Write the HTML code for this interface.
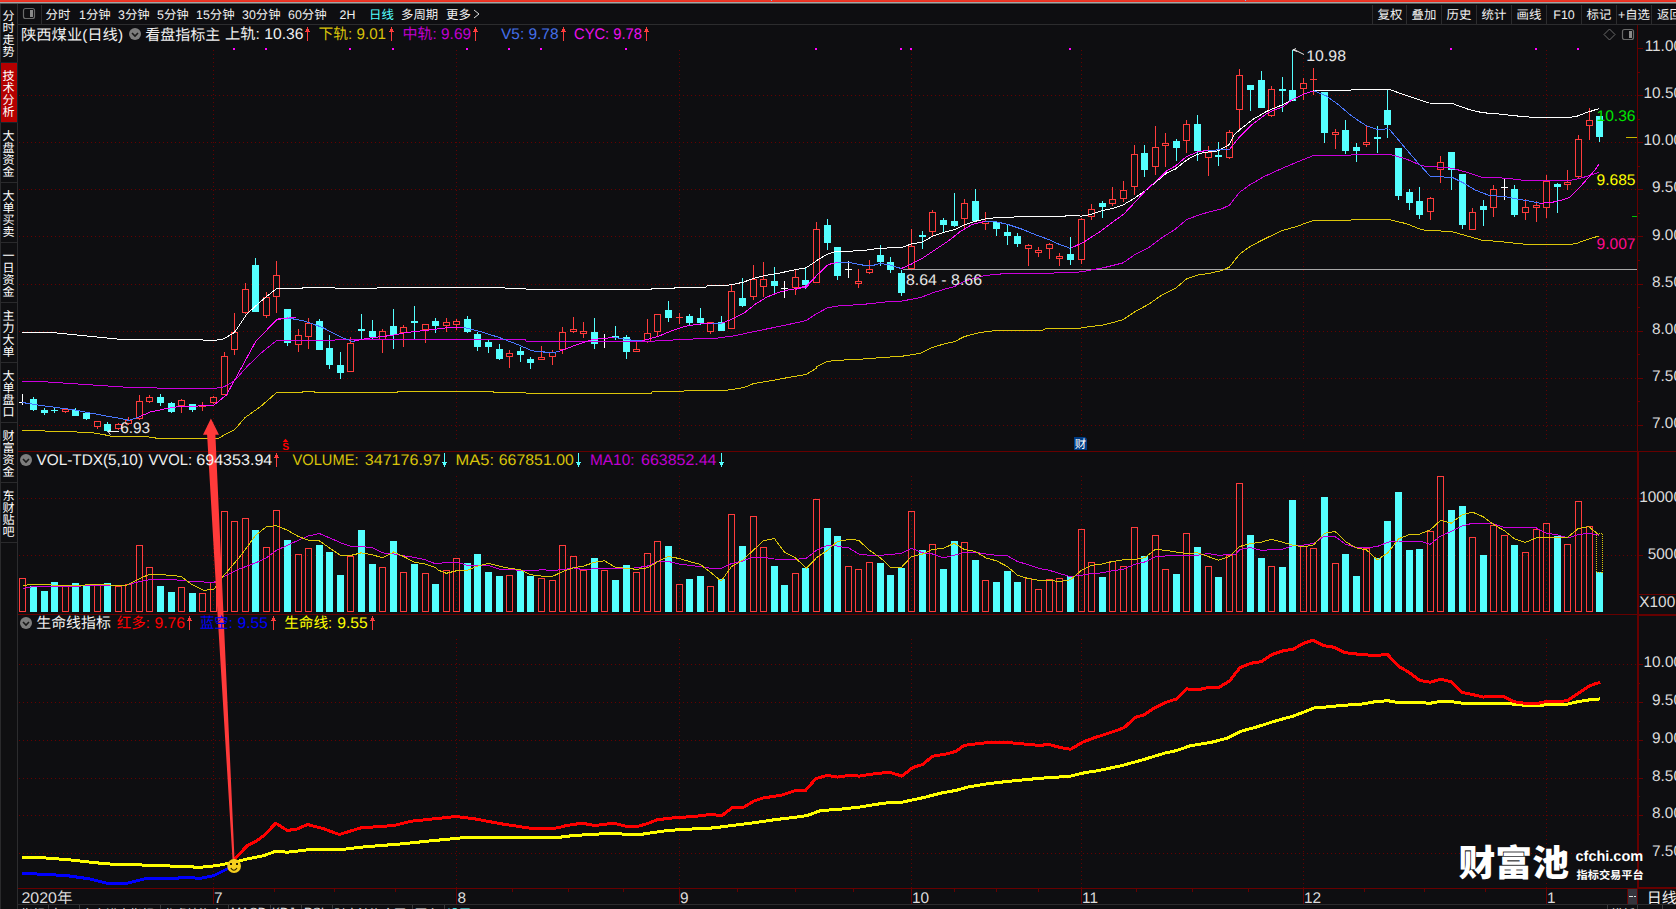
<!DOCTYPE html><html><head><meta charset="utf-8"><title>陕西煤业</title><style>html,body{margin:0;padding:0;background:#0e0e11;width:1676px;height:909px;overflow:hidden}svg{display:block}</style></head><body><svg width="1676" height="909" viewBox="0 0 1676 909" text-rendering="geometricPrecision" font-family="Liberation Sans, Noto Sans CJK SC, sans-serif">
<rect width="1676" height="909" fill="#0e0e11"/>
<g shape-rendering="crispEdges"><rect x="0" y="0" width="1676" height="1" fill="#e83828"/><rect x="0" y="1" width="1676" height="1" fill="#f02c1e"/><rect x="0" y="2" width="1676" height="1" fill="#a2a8a8"/><rect x="0" y="3" width="1676" height="1" fill="#585858"/><rect x="0" y="4" width="1676" height="1" fill="#09090b"/><rect x="771" y="0" width="1" height="1" fill="#78bcf0"/><rect x="1245" y="0" width="1" height="1" fill="#78bcf0"/></g>
<g shape-rendering="crispEdges">
<line x1="19" x2="1637" y1="95.5" y2="95.5" stroke="#660000" stroke-dasharray="1 3"/>
<line x1="19" x2="1637" y1="142.5" y2="142.5" stroke="#660000" stroke-dasharray="1 3"/>
<line x1="19" x2="1637" y1="189.5" y2="189.5" stroke="#660000" stroke-dasharray="1 3"/>
<line x1="19" x2="1637" y1="236.5" y2="236.5" stroke="#660000" stroke-dasharray="1 3"/>
<line x1="19" x2="1637" y1="284.5" y2="284.5" stroke="#660000" stroke-dasharray="1 3"/>
<line x1="19" x2="1637" y1="331.5" y2="331.5" stroke="#660000" stroke-dasharray="1 3"/>
<line x1="19" x2="1637" y1="378.5" y2="378.5" stroke="#660000" stroke-dasharray="1 3"/>
<line x1="19" x2="1637" y1="425.5" y2="425.5" stroke="#660000" stroke-dasharray="1 3"/>
<line x1="213.5" x2="213.5" y1="50" y2="440" stroke="#660000" stroke-dasharray="1 3"/>
<line x1="213.5" x2="213.5" y1="476" y2="612" stroke="#660000" stroke-dasharray="1 3"/>
<line x1="213.5" x2="213.5" y1="639" y2="888" stroke="#660000" stroke-dasharray="1 3"/>
<line x1="456.5" x2="456.5" y1="50" y2="440" stroke="#660000" stroke-dasharray="1 3"/>
<line x1="456.5" x2="456.5" y1="476" y2="612" stroke="#660000" stroke-dasharray="1 3"/>
<line x1="456.5" x2="456.5" y1="639" y2="888" stroke="#660000" stroke-dasharray="1 3"/>
<line x1="679.5" x2="679.5" y1="50" y2="440" stroke="#660000" stroke-dasharray="1 3"/>
<line x1="679.5" x2="679.5" y1="476" y2="612" stroke="#660000" stroke-dasharray="1 3"/>
<line x1="679.5" x2="679.5" y1="639" y2="888" stroke="#660000" stroke-dasharray="1 3"/>
<line x1="911.5" x2="911.5" y1="50" y2="440" stroke="#660000" stroke-dasharray="1 3"/>
<line x1="911.5" x2="911.5" y1="476" y2="612" stroke="#660000" stroke-dasharray="1 3"/>
<line x1="911.5" x2="911.5" y1="639" y2="888" stroke="#660000" stroke-dasharray="1 3"/>
<line x1="1081.5" x2="1081.5" y1="50" y2="440" stroke="#660000" stroke-dasharray="1 3"/>
<line x1="1081.5" x2="1081.5" y1="476" y2="612" stroke="#660000" stroke-dasharray="1 3"/>
<line x1="1081.5" x2="1081.5" y1="639" y2="888" stroke="#660000" stroke-dasharray="1 3"/>
<line x1="1303.5" x2="1303.5" y1="50" y2="440" stroke="#660000" stroke-dasharray="1 3"/>
<line x1="1303.5" x2="1303.5" y1="476" y2="612" stroke="#660000" stroke-dasharray="1 3"/>
<line x1="1303.5" x2="1303.5" y1="639" y2="888" stroke="#660000" stroke-dasharray="1 3"/>
<line x1="1546.5" x2="1546.5" y1="50" y2="440" stroke="#660000" stroke-dasharray="1 3"/>
<line x1="1546.5" x2="1546.5" y1="476" y2="612" stroke="#660000" stroke-dasharray="1 3"/>
<line x1="1546.5" x2="1546.5" y1="639" y2="888" stroke="#660000" stroke-dasharray="1 3"/>
<line x1="19" x2="1637" y1="498.5" y2="498.5" stroke="#660000" stroke-dasharray="1 3"/>
<line x1="19" x2="1637" y1="555.5" y2="555.5" stroke="#660000" stroke-dasharray="1 3"/>
<line x1="19" x2="1637" y1="664.5" y2="664.5" stroke="#660000" stroke-dasharray="1 3"/>
<line x1="19" x2="1637" y1="702.5" y2="702.5" stroke="#660000" stroke-dasharray="1 3"/>
<line x1="19" x2="1637" y1="740.5" y2="740.5" stroke="#660000" stroke-dasharray="1 3"/>
<line x1="19" x2="1637" y1="778.5" y2="778.5" stroke="#660000" stroke-dasharray="1 3"/>
<line x1="19" x2="1637" y1="815.5" y2="815.5" stroke="#660000" stroke-dasharray="1 3"/>
<line x1="19" x2="1637" y1="853.5" y2="853.5" stroke="#660000" stroke-dasharray="1 3"/>
</g>
<rect x="903" y="269" width="734" height="1" fill="#a8a8a8" shape-rendering="crispEdges"/>
<g shape-rendering="crispEdges">
<rect x="22" y="394" width="1" height="11" fill="#ffffff"/>
<rect x="19" y="402" width="7" height="1" fill="#ffffff"/>
<rect x="33" y="397" width="1" height="14" fill="#54ffff"/>
<rect x="30" y="399" width="7" height="11" fill="#54ffff"/>
<rect x="44" y="408" width="1" height="7" fill="#54ffff"/>
<rect x="41" y="410" width="7" height="3" fill="#54ffff"/>
<rect x="54" y="407" width="1" height="6" fill="#54ffff"/>
<rect x="51" y="410" width="7" height="1" fill="#54ffff"/>
<rect x="65" y="412" width="1" height="1" fill="#ff3c3c"/>
<rect x="62.5" y="409.5" width="6" height="2" fill="#0e0e11" stroke="#ff3c3c" stroke-width="1"/>
<rect x="75" y="408" width="1" height="8" fill="#54ffff"/>
<rect x="72" y="410" width="7" height="6" fill="#54ffff"/>
<rect x="86" y="412" width="1" height="8" fill="#54ffff"/>
<rect x="83" y="413" width="7" height="6" fill="#54ffff"/>
<rect x="97" y="427" width="1" height="2" fill="#ff3c3c"/>
<rect x="94.5" y="421.5" width="6" height="5" fill="#0e0e11" stroke="#ff3c3c" stroke-width="1"/>
<rect x="107" y="422" width="1" height="10" fill="#54ffff"/>
<rect x="104" y="424" width="7" height="7" fill="#54ffff"/>
<rect x="118" y="423" width="1" height="1" fill="#ff3c3c"/>
<rect x="118" y="429" width="1" height="1" fill="#ff3c3c"/>
<rect x="115.5" y="424.5" width="6" height="4" fill="#0e0e11" stroke="#ff3c3c" stroke-width="1"/>
<rect x="128" y="417" width="1" height="3" fill="#ff3c3c"/>
<rect x="128" y="424" width="1" height="1" fill="#ff3c3c"/>
<rect x="125.5" y="420.5" width="6" height="3" fill="#0e0e11" stroke="#ff3c3c" stroke-width="1"/>
<rect x="139" y="395" width="1" height="6" fill="#ff3c3c"/>
<rect x="139" y="419" width="1" height="1" fill="#ff3c3c"/>
<rect x="136.5" y="401.5" width="6" height="17" fill="#0e0e11" stroke="#ff3c3c" stroke-width="1"/>
<rect x="149" y="395" width="1" height="2" fill="#ff3c3c"/>
<rect x="149" y="402" width="1" height="1" fill="#ff3c3c"/>
<rect x="146.5" y="397.5" width="6" height="4" fill="#0e0e11" stroke="#ff3c3c" stroke-width="1"/>
<rect x="160" y="394" width="1" height="12" fill="#54ffff"/>
<rect x="157" y="397" width="7" height="6" fill="#54ffff"/>
<rect x="171" y="402" width="1" height="11" fill="#54ffff"/>
<rect x="168" y="403" width="7" height="9" fill="#54ffff"/>
<rect x="181" y="399" width="1" height="1" fill="#ff3c3c"/>
<rect x="181" y="406" width="1" height="7" fill="#ff3c3c"/>
<rect x="178.5" y="400.5" width="6" height="5" fill="#0e0e11" stroke="#ff3c3c" stroke-width="1"/>
<rect x="192" y="404" width="1" height="8" fill="#54ffff"/>
<rect x="189" y="404" width="7" height="6" fill="#54ffff"/>
<rect x="202" y="402" width="1" height="9" fill="#ff3c3c"/>
<rect x="199" y="406" width="7" height="1" fill="#ff3c3c"/>
<rect x="213" y="396" width="1" height="1" fill="#ff3c3c"/>
<rect x="213" y="403" width="1" height="1" fill="#ff3c3c"/>
<rect x="210.5" y="397.5" width="6" height="5" fill="#0e0e11" stroke="#ff3c3c" stroke-width="1"/>
<rect x="224" y="352" width="1" height="4" fill="#ff3c3c"/>
<rect x="221.5" y="356.5" width="6" height="38" fill="#0e0e11" stroke="#ff3c3c" stroke-width="1"/>
<rect x="234" y="313" width="1" height="19" fill="#ff3c3c"/>
<rect x="234" y="350" width="1" height="5" fill="#ff3c3c"/>
<rect x="231.5" y="332.5" width="6" height="17" fill="#0e0e11" stroke="#ff3c3c" stroke-width="1"/>
<rect x="245" y="283" width="1" height="6" fill="#ff3c3c"/>
<rect x="245" y="313" width="1" height="1" fill="#ff3c3c"/>
<rect x="242.5" y="289.5" width="6" height="23" fill="#0e0e11" stroke="#ff3c3c" stroke-width="1"/>
<rect x="255" y="258" width="1" height="54" fill="#54ffff"/>
<rect x="252" y="265" width="7" height="47" fill="#54ffff"/>
<rect x="266" y="292" width="1" height="5" fill="#ff3c3c"/>
<rect x="266" y="316" width="1" height="2" fill="#ff3c3c"/>
<rect x="263.5" y="297.5" width="6" height="18" fill="#0e0e11" stroke="#ff3c3c" stroke-width="1"/>
<rect x="276" y="261" width="1" height="14" fill="#ff3c3c"/>
<rect x="276" y="297" width="1" height="16" fill="#ff3c3c"/>
<rect x="273.5" y="275.5" width="6" height="21" fill="#0e0e11" stroke="#ff3c3c" stroke-width="1"/>
<rect x="287" y="309" width="1" height="37" fill="#54ffff"/>
<rect x="284" y="309" width="7" height="34" fill="#54ffff"/>
<rect x="298" y="329" width="1" height="6" fill="#ff3c3c"/>
<rect x="298" y="345" width="1" height="7" fill="#ff3c3c"/>
<rect x="295.5" y="335.5" width="6" height="9" fill="#0e0e11" stroke="#ff3c3c" stroke-width="1"/>
<rect x="308" y="318" width="1" height="5" fill="#ff3c3c"/>
<rect x="308" y="337" width="1" height="12" fill="#ff3c3c"/>
<rect x="305.5" y="323.5" width="6" height="13" fill="#0e0e11" stroke="#ff3c3c" stroke-width="1"/>
<rect x="319" y="319" width="1" height="31" fill="#54ffff"/>
<rect x="316" y="321" width="7" height="29" fill="#54ffff"/>
<rect x="329" y="335" width="1" height="34" fill="#54ffff"/>
<rect x="326" y="348" width="7" height="17" fill="#54ffff"/>
<rect x="340" y="352" width="1" height="27" fill="#54ffff"/>
<rect x="337" y="365" width="7" height="8" fill="#54ffff"/>
<rect x="350" y="337" width="1" height="6" fill="#ff3c3c"/>
<rect x="347.5" y="343.5" width="6" height="28" fill="#0e0e11" stroke="#ff3c3c" stroke-width="1"/>
<rect x="361" y="314" width="1" height="26" fill="#54ffff"/>
<rect x="358" y="329" width="7" height="2" fill="#54ffff"/>
<rect x="372" y="320" width="1" height="20" fill="#54ffff"/>
<rect x="369" y="331" width="7" height="6" fill="#54ffff"/>
<rect x="382" y="329" width="1" height="2" fill="#ff3c3c"/>
<rect x="382" y="340" width="1" height="13" fill="#ff3c3c"/>
<rect x="379.5" y="331.5" width="6" height="8" fill="#0e0e11" stroke="#ff3c3c" stroke-width="1"/>
<rect x="393" y="309" width="1" height="40" fill="#54ffff"/>
<rect x="390" y="326" width="7" height="9" fill="#54ffff"/>
<rect x="403" y="325" width="1" height="2" fill="#ff3c3c"/>
<rect x="403" y="333" width="1" height="14" fill="#ff3c3c"/>
<rect x="400.5" y="327.5" width="6" height="5" fill="#0e0e11" stroke="#ff3c3c" stroke-width="1"/>
<rect x="414" y="306" width="1" height="33" fill="#54ffff"/>
<rect x="411" y="321" width="7" height="2" fill="#54ffff"/>
<rect x="425" y="330" width="1" height="13" fill="#ff3c3c"/>
<rect x="422.5" y="324.5" width="6" height="5" fill="#0e0e11" stroke="#ff3c3c" stroke-width="1"/>
<rect x="435" y="318" width="1" height="15" fill="#54ffff"/>
<rect x="432" y="321" width="7" height="5" fill="#54ffff"/>
<rect x="446" y="318" width="1" height="4" fill="#ff3c3c"/>
<rect x="446" y="326" width="1" height="6" fill="#ff3c3c"/>
<rect x="443.5" y="322.5" width="6" height="3" fill="#0e0e11" stroke="#ff3c3c" stroke-width="1"/>
<rect x="456" y="319" width="1" height="2" fill="#ff3c3c"/>
<rect x="456" y="325" width="1" height="5" fill="#ff3c3c"/>
<rect x="453.5" y="321.5" width="6" height="3" fill="#0e0e11" stroke="#ff3c3c" stroke-width="1"/>
<rect x="467" y="316" width="1" height="17" fill="#54ffff"/>
<rect x="464" y="319" width="7" height="13" fill="#54ffff"/>
<rect x="477" y="332" width="1" height="19" fill="#54ffff"/>
<rect x="474" y="334" width="7" height="13" fill="#54ffff"/>
<rect x="488" y="340" width="1" height="13" fill="#54ffff"/>
<rect x="485" y="342" width="7" height="5" fill="#54ffff"/>
<rect x="499" y="344" width="1" height="16" fill="#54ffff"/>
<rect x="496" y="349" width="7" height="10" fill="#54ffff"/>
<rect x="509" y="350" width="1" height="3" fill="#ff3c3c"/>
<rect x="509" y="357" width="1" height="11" fill="#ff3c3c"/>
<rect x="506.5" y="353.5" width="6" height="3" fill="#0e0e11" stroke="#ff3c3c" stroke-width="1"/>
<rect x="520" y="347" width="1" height="15" fill="#54ffff"/>
<rect x="517" y="351" width="7" height="4" fill="#54ffff"/>
<rect x="530" y="357" width="1" height="12" fill="#54ffff"/>
<rect x="527" y="359" width="7" height="4" fill="#54ffff"/>
<rect x="541" y="346" width="1" height="11" fill="#ff3c3c"/>
<rect x="538.5" y="357.5" width="6" height="2" fill="#0e0e11" stroke="#ff3c3c" stroke-width="1"/>
<rect x="552" y="350" width="1" height="2" fill="#ff3c3c"/>
<rect x="552" y="357" width="1" height="8" fill="#ff3c3c"/>
<rect x="549.5" y="352.5" width="6" height="4" fill="#0e0e11" stroke="#ff3c3c" stroke-width="1"/>
<rect x="562" y="327" width="1" height="5" fill="#ff3c3c"/>
<rect x="562" y="350" width="1" height="4" fill="#ff3c3c"/>
<rect x="559.5" y="332.5" width="6" height="17" fill="#0e0e11" stroke="#ff3c3c" stroke-width="1"/>
<rect x="573" y="317" width="1" height="12" fill="#ff3c3c"/>
<rect x="573" y="332" width="1" height="1" fill="#ff3c3c"/>
<rect x="570.5" y="329.5" width="6" height="2" fill="#0e0e11" stroke="#ff3c3c" stroke-width="1"/>
<rect x="583" y="322" width="1" height="9" fill="#ff3c3c"/>
<rect x="583" y="334" width="1" height="4" fill="#ff3c3c"/>
<rect x="580.5" y="331.5" width="6" height="2" fill="#0e0e11" stroke="#ff3c3c" stroke-width="1"/>
<rect x="594" y="318" width="1" height="31" fill="#54ffff"/>
<rect x="591" y="332" width="7" height="12" fill="#54ffff"/>
<rect x="604" y="334" width="1" height="14" fill="#ffffff"/>
<rect x="601" y="338" width="7" height="1" fill="#ffffff"/>
<rect x="615" y="326" width="1" height="14" fill="#54ffff"/>
<rect x="612" y="336" width="7" height="2" fill="#54ffff"/>
<rect x="626" y="335" width="1" height="24" fill="#54ffff"/>
<rect x="623" y="337" width="7" height="15" fill="#54ffff"/>
<rect x="636" y="342" width="1" height="7" fill="#ff3c3c"/>
<rect x="633.5" y="349.5" width="6" height="2" fill="#0e0e11" stroke="#ff3c3c" stroke-width="1"/>
<rect x="647" y="319" width="1" height="14" fill="#ff3c3c"/>
<rect x="647" y="342" width="1" height="1" fill="#ff3c3c"/>
<rect x="644.5" y="333.5" width="6" height="8" fill="#0e0e11" stroke="#ff3c3c" stroke-width="1"/>
<rect x="657" y="332" width="1" height="4" fill="#ff3c3c"/>
<rect x="654.5" y="314.5" width="6" height="17" fill="#0e0e11" stroke="#ff3c3c" stroke-width="1"/>
<rect x="668" y="301" width="1" height="21" fill="#54ffff"/>
<rect x="665" y="310" width="7" height="8" fill="#54ffff"/>
<rect x="679" y="313" width="1" height="11" fill="#ff3c3c"/>
<rect x="676" y="317" width="7" height="1" fill="#ff3c3c"/>
<rect x="689" y="314" width="1" height="11" fill="#54ffff"/>
<rect x="686" y="316" width="7" height="7" fill="#54ffff"/>
<rect x="700" y="308" width="1" height="17" fill="#54ffff"/>
<rect x="697" y="318" width="7" height="5" fill="#54ffff"/>
<rect x="710" y="332" width="1" height="2" fill="#ff3c3c"/>
<rect x="707.5" y="322.5" width="6" height="9" fill="#0e0e11" stroke="#ff3c3c" stroke-width="1"/>
<rect x="721" y="316" width="1" height="15" fill="#54ffff"/>
<rect x="718" y="322" width="7" height="9" fill="#54ffff"/>
<rect x="731" y="284" width="1" height="7" fill="#ff3c3c"/>
<rect x="728.5" y="291.5" width="6" height="37" fill="#0e0e11" stroke="#ff3c3c" stroke-width="1"/>
<rect x="742" y="278" width="1" height="29" fill="#54ffff"/>
<rect x="739" y="298" width="7" height="8" fill="#54ffff"/>
<rect x="753" y="265" width="1" height="14" fill="#ff3c3c"/>
<rect x="753" y="297" width="1" height="3" fill="#ff3c3c"/>
<rect x="750.5" y="279.5" width="6" height="17" fill="#0e0e11" stroke="#ff3c3c" stroke-width="1"/>
<rect x="763" y="262" width="1" height="17" fill="#ff3c3c"/>
<rect x="763" y="287" width="1" height="10" fill="#ff3c3c"/>
<rect x="760.5" y="279.5" width="6" height="7" fill="#0e0e11" stroke="#ff3c3c" stroke-width="1"/>
<rect x="774" y="267" width="1" height="26" fill="#54ffff"/>
<rect x="771" y="281" width="7" height="5" fill="#54ffff"/>
<rect x="784" y="281" width="1" height="17" fill="#ffffff"/>
<rect x="781" y="288" width="7" height="1" fill="#ffffff"/>
<rect x="795" y="269" width="1" height="8" fill="#ff3c3c"/>
<rect x="795" y="288" width="1" height="7" fill="#ff3c3c"/>
<rect x="792.5" y="277.5" width="6" height="10" fill="#0e0e11" stroke="#ff3c3c" stroke-width="1"/>
<rect x="805" y="268" width="1" height="21" fill="#54ffff"/>
<rect x="802" y="280" width="7" height="5" fill="#54ffff"/>
<rect x="816" y="222" width="1" height="7" fill="#ff3c3c"/>
<rect x="813.5" y="229.5" width="6" height="53" fill="#0e0e11" stroke="#ff3c3c" stroke-width="1"/>
<rect x="827" y="219" width="1" height="31" fill="#54ffff"/>
<rect x="824" y="225" width="7" height="18" fill="#54ffff"/>
<rect x="837" y="247" width="1" height="33" fill="#54ffff"/>
<rect x="834" y="247" width="7" height="29" fill="#54ffff"/>
<rect x="848" y="261" width="1" height="17" fill="#ffffff"/>
<rect x="845" y="269" width="7" height="1" fill="#ffffff"/>
<rect x="858" y="269" width="1" height="12" fill="#ff3c3c"/>
<rect x="858" y="284" width="1" height="4" fill="#ff3c3c"/>
<rect x="855.5" y="281.5" width="6" height="2" fill="#0e0e11" stroke="#ff3c3c" stroke-width="1"/>
<rect x="869" y="260" width="1" height="9" fill="#ff3c3c"/>
<rect x="869" y="273" width="1" height="1" fill="#ff3c3c"/>
<rect x="866.5" y="269.5" width="6" height="3" fill="#0e0e11" stroke="#ff3c3c" stroke-width="1"/>
<rect x="880" y="245" width="1" height="21" fill="#54ffff"/>
<rect x="877" y="255" width="7" height="7" fill="#54ffff"/>
<rect x="890" y="257" width="1" height="16" fill="#54ffff"/>
<rect x="887" y="262" width="7" height="8" fill="#54ffff"/>
<rect x="901" y="270" width="1" height="26" fill="#54ffff"/>
<rect x="898" y="273" width="7" height="20" fill="#54ffff"/>
<rect x="911" y="229" width="1" height="17" fill="#ff3c3c"/>
<rect x="908.5" y="246.5" width="6" height="22" fill="#0e0e11" stroke="#ff3c3c" stroke-width="1"/>
<rect x="922" y="231" width="1" height="18" fill="#54ffff"/>
<rect x="919" y="235" width="7" height="2" fill="#54ffff"/>
<rect x="932" y="210" width="1" height="2" fill="#ff3c3c"/>
<rect x="932" y="232" width="1" height="5" fill="#ff3c3c"/>
<rect x="929.5" y="212.5" width="6" height="19" fill="#0e0e11" stroke="#ff3c3c" stroke-width="1"/>
<rect x="943" y="218" width="1" height="14" fill="#54ffff"/>
<rect x="940" y="220" width="7" height="5" fill="#54ffff"/>
<rect x="954" y="193" width="1" height="34" fill="#54ffff"/>
<rect x="951" y="221" width="7" height="5" fill="#54ffff"/>
<rect x="964" y="199" width="1" height="4" fill="#ff3c3c"/>
<rect x="964" y="219" width="1" height="10" fill="#ff3c3c"/>
<rect x="961.5" y="203.5" width="6" height="15" fill="#0e0e11" stroke="#ff3c3c" stroke-width="1"/>
<rect x="975" y="189" width="1" height="33" fill="#54ffff"/>
<rect x="972" y="201" width="7" height="20" fill="#54ffff"/>
<rect x="985" y="212" width="1" height="9" fill="#ff3c3c"/>
<rect x="985" y="224" width="1" height="6" fill="#ff3c3c"/>
<rect x="982.5" y="221.5" width="6" height="2" fill="#0e0e11" stroke="#ff3c3c" stroke-width="1"/>
<rect x="996" y="221" width="1" height="15" fill="#54ffff"/>
<rect x="993" y="222" width="7" height="7" fill="#54ffff"/>
<rect x="1007" y="224" width="1" height="21" fill="#54ffff"/>
<rect x="1004" y="232" width="7" height="4" fill="#54ffff"/>
<rect x="1017" y="233" width="1" height="14" fill="#54ffff"/>
<rect x="1014" y="236" width="7" height="8" fill="#54ffff"/>
<rect x="1028" y="244" width="1" height="1" fill="#ff3c3c"/>
<rect x="1028" y="249" width="1" height="17" fill="#ff3c3c"/>
<rect x="1025.5" y="245.5" width="6" height="3" fill="#0e0e11" stroke="#ff3c3c" stroke-width="1"/>
<rect x="1038" y="247" width="1" height="3" fill="#ff3c3c"/>
<rect x="1038" y="253" width="1" height="4" fill="#ff3c3c"/>
<rect x="1035.5" y="250.5" width="6" height="2" fill="#0e0e11" stroke="#ff3c3c" stroke-width="1"/>
<rect x="1049" y="243" width="1" height="1" fill="#ff3c3c"/>
<rect x="1049" y="249" width="1" height="10" fill="#ff3c3c"/>
<rect x="1046.5" y="244.5" width="6" height="4" fill="#0e0e11" stroke="#ff3c3c" stroke-width="1"/>
<rect x="1059" y="253" width="1" height="3" fill="#ff3c3c"/>
<rect x="1059" y="259" width="1" height="7" fill="#ff3c3c"/>
<rect x="1056.5" y="256.5" width="6" height="2" fill="#0e0e11" stroke="#ff3c3c" stroke-width="1"/>
<rect x="1070" y="237" width="1" height="28" fill="#54ffff"/>
<rect x="1067" y="254" width="7" height="6" fill="#54ffff"/>
<rect x="1081" y="218" width="1" height="1" fill="#ff3c3c"/>
<rect x="1081" y="260" width="1" height="4" fill="#ff3c3c"/>
<rect x="1078.5" y="219.5" width="6" height="40" fill="#0e0e11" stroke="#ff3c3c" stroke-width="1"/>
<rect x="1091" y="204" width="1" height="5" fill="#ff3c3c"/>
<rect x="1091" y="217" width="1" height="3" fill="#ff3c3c"/>
<rect x="1088.5" y="209.5" width="6" height="7" fill="#0e0e11" stroke="#ff3c3c" stroke-width="1"/>
<rect x="1102" y="201" width="1" height="17" fill="#54ffff"/>
<rect x="1099" y="203" width="7" height="4" fill="#54ffff"/>
<rect x="1112" y="187" width="1" height="12" fill="#ff3c3c"/>
<rect x="1112" y="204" width="1" height="2" fill="#ff3c3c"/>
<rect x="1109.5" y="199.5" width="6" height="4" fill="#0e0e11" stroke="#ff3c3c" stroke-width="1"/>
<rect x="1123" y="181" width="1" height="9" fill="#ff3c3c"/>
<rect x="1123" y="199" width="1" height="3" fill="#ff3c3c"/>
<rect x="1120.5" y="190.5" width="6" height="8" fill="#0e0e11" stroke="#ff3c3c" stroke-width="1"/>
<rect x="1134" y="145" width="1" height="9" fill="#ff3c3c"/>
<rect x="1134" y="187" width="1" height="8" fill="#ff3c3c"/>
<rect x="1131.5" y="154.5" width="6" height="32" fill="#0e0e11" stroke="#ff3c3c" stroke-width="1"/>
<rect x="1144" y="145" width="1" height="32" fill="#54ffff"/>
<rect x="1141" y="153" width="7" height="17" fill="#54ffff"/>
<rect x="1155" y="126" width="1" height="21" fill="#ff3c3c"/>
<rect x="1155" y="167" width="1" height="8" fill="#ff3c3c"/>
<rect x="1152.5" y="147.5" width="6" height="19" fill="#0e0e11" stroke="#ff3c3c" stroke-width="1"/>
<rect x="1165" y="133" width="1" height="10" fill="#ff3c3c"/>
<rect x="1165" y="146" width="1" height="21" fill="#ff3c3c"/>
<rect x="1162.5" y="143.5" width="6" height="2" fill="#0e0e11" stroke="#ff3c3c" stroke-width="1"/>
<rect x="1176" y="139" width="1" height="22" fill="#54ffff"/>
<rect x="1173" y="141" width="7" height="7" fill="#54ffff"/>
<rect x="1186" y="120" width="1" height="4" fill="#ff3c3c"/>
<rect x="1186" y="141" width="1" height="12" fill="#ff3c3c"/>
<rect x="1183.5" y="124.5" width="6" height="16" fill="#0e0e11" stroke="#ff3c3c" stroke-width="1"/>
<rect x="1197" y="115" width="1" height="46" fill="#54ffff"/>
<rect x="1194" y="124" width="7" height="27" fill="#54ffff"/>
<rect x="1208" y="146" width="1" height="6" fill="#ff3c3c"/>
<rect x="1208" y="158" width="1" height="18" fill="#ff3c3c"/>
<rect x="1205.5" y="152.5" width="6" height="5" fill="#0e0e11" stroke="#ff3c3c" stroke-width="1"/>
<rect x="1218" y="142" width="1" height="24" fill="#54ffff"/>
<rect x="1215" y="155" width="7" height="2" fill="#54ffff"/>
<rect x="1229" y="130" width="1" height="2" fill="#ff3c3c"/>
<rect x="1229" y="158" width="1" height="1" fill="#ff3c3c"/>
<rect x="1226.5" y="132.5" width="6" height="25" fill="#0e0e11" stroke="#ff3c3c" stroke-width="1"/>
<rect x="1239" y="69" width="1" height="6" fill="#ff3c3c"/>
<rect x="1239" y="110" width="1" height="19" fill="#ff3c3c"/>
<rect x="1236.5" y="75.5" width="6" height="34" fill="#0e0e11" stroke="#ff3c3c" stroke-width="1"/>
<rect x="1250" y="85" width="1" height="26" fill="#54ffff"/>
<rect x="1247" y="85" width="7" height="5" fill="#54ffff"/>
<rect x="1261" y="71" width="1" height="37" fill="#54ffff"/>
<rect x="1258" y="80" width="7" height="28" fill="#54ffff"/>
<rect x="1271" y="86" width="1" height="3" fill="#ff3c3c"/>
<rect x="1271" y="116" width="1" height="1" fill="#ff3c3c"/>
<rect x="1268.5" y="89.5" width="6" height="26" fill="#0e0e11" stroke="#ff3c3c" stroke-width="1"/>
<rect x="1282" y="77" width="1" height="35" fill="#54ffff"/>
<rect x="1279" y="89" width="7" height="2" fill="#54ffff"/>
<rect x="1292" y="50" width="1" height="51" fill="#54ffff"/>
<rect x="1289" y="90" width="7" height="11" fill="#54ffff"/>
<rect x="1303" y="78" width="1" height="5" fill="#ff3c3c"/>
<rect x="1303" y="89" width="1" height="11" fill="#ff3c3c"/>
<rect x="1300.5" y="83.5" width="6" height="5" fill="#0e0e11" stroke="#ff3c3c" stroke-width="1"/>
<rect x="1313" y="68" width="1" height="27" fill="#ff3c3c"/>
<rect x="1310" y="79" width="7" height="1" fill="#ff3c3c"/>
<rect x="1324" y="92" width="1" height="51" fill="#54ffff"/>
<rect x="1321" y="92" width="7" height="41" fill="#54ffff"/>
<rect x="1335" y="129" width="1" height="3" fill="#ff3c3c"/>
<rect x="1335" y="135" width="1" height="14" fill="#ff3c3c"/>
<rect x="1332.5" y="132.5" width="6" height="2" fill="#0e0e11" stroke="#ff3c3c" stroke-width="1"/>
<rect x="1345" y="120" width="1" height="34" fill="#54ffff"/>
<rect x="1342" y="130" width="7" height="21" fill="#54ffff"/>
<rect x="1356" y="143" width="1" height="19" fill="#54ffff"/>
<rect x="1353" y="147" width="7" height="4" fill="#54ffff"/>
<rect x="1366" y="126" width="1" height="16" fill="#ff3c3c"/>
<rect x="1366" y="145" width="1" height="2" fill="#ff3c3c"/>
<rect x="1363.5" y="142.5" width="6" height="2" fill="#0e0e11" stroke="#ff3c3c" stroke-width="1"/>
<rect x="1377" y="126" width="1" height="27" fill="#54ffff"/>
<rect x="1374" y="137" width="7" height="2" fill="#54ffff"/>
<rect x="1387" y="90" width="1" height="48" fill="#54ffff"/>
<rect x="1384" y="110" width="7" height="15" fill="#54ffff"/>
<rect x="1398" y="148" width="1" height="52" fill="#54ffff"/>
<rect x="1395" y="148" width="7" height="48" fill="#54ffff"/>
<rect x="1409" y="189" width="1" height="21" fill="#54ffff"/>
<rect x="1406" y="192" width="7" height="11" fill="#54ffff"/>
<rect x="1419" y="187" width="1" height="32" fill="#54ffff"/>
<rect x="1416" y="201" width="7" height="14" fill="#54ffff"/>
<rect x="1430" y="197" width="1" height="1" fill="#ff3c3c"/>
<rect x="1430" y="212" width="1" height="8" fill="#ff3c3c"/>
<rect x="1427.5" y="198.5" width="6" height="13" fill="#0e0e11" stroke="#ff3c3c" stroke-width="1"/>
<rect x="1440" y="156" width="1" height="6" fill="#ff3c3c"/>
<rect x="1440" y="170" width="1" height="13" fill="#ff3c3c"/>
<rect x="1437.5" y="162.5" width="6" height="7" fill="#0e0e11" stroke="#ff3c3c" stroke-width="1"/>
<rect x="1451" y="152" width="1" height="38" fill="#54ffff"/>
<rect x="1448" y="152" width="7" height="18" fill="#54ffff"/>
<rect x="1462" y="174" width="1" height="55" fill="#54ffff"/>
<rect x="1459" y="174" width="7" height="51" fill="#54ffff"/>
<rect x="1472" y="208" width="1" height="4" fill="#ff3c3c"/>
<rect x="1469.5" y="212.5" width="6" height="17" fill="#0e0e11" stroke="#ff3c3c" stroke-width="1"/>
<rect x="1483" y="200" width="1" height="26" fill="#54ffff"/>
<rect x="1480" y="206" width="7" height="4" fill="#54ffff"/>
<rect x="1493" y="185" width="1" height="4" fill="#ff3c3c"/>
<rect x="1493" y="208" width="1" height="9" fill="#ff3c3c"/>
<rect x="1490.5" y="189.5" width="6" height="18" fill="#0e0e11" stroke="#ff3c3c" stroke-width="1"/>
<rect x="1504" y="178" width="1" height="22" fill="#ffffff"/>
<rect x="1501" y="187" width="7" height="1" fill="#ffffff"/>
<rect x="1514" y="185" width="1" height="32" fill="#54ffff"/>
<rect x="1511" y="189" width="7" height="26" fill="#54ffff"/>
<rect x="1525" y="199" width="1" height="8" fill="#ff3c3c"/>
<rect x="1525" y="213" width="1" height="7" fill="#ff3c3c"/>
<rect x="1522.5" y="207.5" width="6" height="5" fill="#0e0e11" stroke="#ff3c3c" stroke-width="1"/>
<rect x="1536" y="201" width="1" height="4" fill="#ff3c3c"/>
<rect x="1536" y="208" width="1" height="14" fill="#ff3c3c"/>
<rect x="1533.5" y="205.5" width="6" height="2" fill="#0e0e11" stroke="#ff3c3c" stroke-width="1"/>
<rect x="1546" y="175" width="1" height="6" fill="#ff3c3c"/>
<rect x="1546" y="208" width="1" height="10" fill="#ff3c3c"/>
<rect x="1543.5" y="181.5" width="6" height="26" fill="#0e0e11" stroke="#ff3c3c" stroke-width="1"/>
<rect x="1557" y="183" width="1" height="30" fill="#54ffff"/>
<rect x="1554" y="184" width="7" height="3" fill="#54ffff"/>
<rect x="1567" y="170" width="1" height="12" fill="#ff3c3c"/>
<rect x="1567" y="185" width="1" height="5" fill="#ff3c3c"/>
<rect x="1564.5" y="182.5" width="6" height="2" fill="#0e0e11" stroke="#ff3c3c" stroke-width="1"/>
<rect x="1578" y="135" width="1" height="4" fill="#ff3c3c"/>
<rect x="1578" y="177" width="1" height="1" fill="#ff3c3c"/>
<rect x="1575.5" y="139.5" width="6" height="37" fill="#0e0e11" stroke="#ff3c3c" stroke-width="1"/>
<rect x="1589" y="108" width="1" height="12" fill="#ff3c3c"/>
<rect x="1589" y="126" width="1" height="14" fill="#ff3c3c"/>
<rect x="1586.5" y="120.5" width="6" height="5" fill="#0e0e11" stroke="#ff3c3c" stroke-width="1"/>
<rect x="1599" y="116" width="1" height="26" fill="#54ffff"/>
<rect x="1596" y="116" width="7" height="21" fill="#54ffff"/>
</g>
<polyline points="21.8,430.6 62.2,431.3 85.3,432.4 99.6,433.4 100.6,434.5 105.2,434.5 106.1,435.4 113.0,436.4 154.6,437.1 155.5,438.0 219.3,438.0 223.9,435.2 234.5,429.9 244.7,417.9 260.9,406.3 276.6,392.5 296.0,392.5 302.6,392.5 302.8,391.3 314.1,391.3 314.3,392.5 397.7,392.5 398.0,391.3 493.6,391.3 493.9,392.5 525.5,392.5 526.0,393.2 556.0,393.2 651.5,393.4 652.0,391.7 683.9,391.7 684.3,390.6 724.3,390.6 743.9,387.6 753.2,383.7 774.0,380.2 792.4,376.7 806.3,374.4 816.0,368.6 816.8,366.6 827.2,361.3 842.2,360.1 863.0,359.0 883.8,357.4 902.3,356.2 920.8,353.2 932.5,347.4 943.9,344.0 954.3,341.7 964.4,336.6 975.3,333.6 985.4,331.7 1001.6,330.1 1043.2,330.1 1045.5,328.9 1076.0,328.9 1086.0,327.1 1104.5,324.8 1123.0,319.7 1134.5,312.0 1148.4,304.4 1162.3,294.7 1176.1,287.8 1186.5,279.0 1197.4,275.1 1208.5,273.5 1222.3,270.5 1229.5,267.0 1239.4,254.3 1250.5,246.2 1266.2,238.1 1282.4,230.5 1296.3,226.6 1313.6,220.3 1350.6,220.3 1351.5,219.4 1389.9,219.7 1406.0,223.6 1422.2,229.9 1452.2,231.7 1468.4,236.3 1482.3,240.3 1498.4,241.4 1519.2,243.7 1533.1,244.9 1567.7,244.9 1577.0,243.3 1586.2,239.8 1595.5,237.0 1598.9,236.3" fill="none" stroke="#dcc60a" stroke-width="1" stroke-linejoin="round" shape-rendering="crispEdges"/>
<polyline points="21.8,381.4 39.1,381.4 136.1,387.9 214.7,388.3 223.9,386.9 234.5,380.9 247.0,366.6 260.9,353.2 276.6,340.5 296.0,340.5 334.9,340.5 335.1,339.8 525.5,339.8 526.0,341.2 556.0,341.2 646.9,341.4 665.4,340.5 683.9,339.3 716.2,338.2 734.7,335.8 753.2,331.7 774.0,327.5 792.4,323.6 806.3,320.6 816.0,313.9 816.8,313.7 827.2,307.9 837.6,306.0 863.0,304.4 883.8,302.1 902.3,301.0 920.8,297.5 932.5,292.9 943.9,289.4 954.3,286.6 964.4,281.3 975.3,277.9 985.4,275.5 1001.6,273.9 1050.1,273.2 1065.1,272.5 1076.0,272.5 1086.0,271.0 1104.5,267.5 1123.0,262.9 1134.5,254.8 1148.4,247.9 1162.3,237.5 1175.0,229.4 1186.5,219.7 1197.4,215.5 1208.5,212.1 1222.3,208.6 1229.5,205.1 1239.4,192.4 1250.5,184.4 1263.9,176.7 1282.4,168.2 1296.3,162.4 1313.6,155.5 1350.6,155.5 1351.5,154.3 1389.9,154.3 1406.0,158.9 1422.2,165.9 1452.2,168.2 1468.4,172.8 1482.3,177.4 1505.4,178.1 1523.9,180.4 1567.7,180.9 1579.3,178.6 1590.9,175.1 1598.9,172.3" fill="none" stroke="#cc00dd" stroke-width="1" stroke-linejoin="round" shape-rendering="crispEdges"/>
<polyline points="21.8,332.4 50.7,332.4 124.6,339.8 198.5,339.8 213.5,340.5 223.9,338.9 234.5,332.4 247.0,313.9 260.9,301.2 276.6,288.5 296.0,288.5 302.6,288.5 302.8,287.4 334.9,287.4 335.1,288.5 377.0,288.5 377.2,287.4 504.7,287.4 505.2,288.1 525.5,288.1 526.0,289.2 556.0,289.2 651.5,289.6 652.0,288.5 674.6,288.5 675.1,287.3 705.8,287.3 707.0,285.9 724.3,285.9 737.0,283.6 743.9,282.0 753.2,278.5 764.7,275.5 780.9,272.8 794.7,269.8 806.3,267.7 816.0,261.2 816.8,260.5 826.0,254.8 835.3,251.7 863.0,250.6 879.2,248.3 902.3,247.4 911.5,243.9 922.4,242.0 932.5,236.3 943.9,232.3 954.3,229.8 964.4,224.7 975.3,221.3 985.4,218.9 1001.6,217.1 1065.1,216.6 1065.4,215.5 1076.0,215.5 1081.4,216.2 1090.7,214.4 1102.2,210.5 1113.8,208.2 1123.5,204.7 1134.5,198.2 1146.1,190.1 1160.0,178.6 1166.9,172.8 1175.0,169.3 1186.5,160.1 1194.6,155.5 1203.9,152.5 1218.4,150.9 1229.5,144.4 1234.3,134.7 1240.8,128.9 1252.4,119.7 1266.2,111.6 1280.1,105.8 1292.6,100.0 1303.4,94.3 1313.6,90.8 1350.6,90.8 1351.5,89.6 1389.9,89.6 1406.0,95.4 1429.1,103.0 1452.2,103.5 1468.4,109.3 1482.3,112.7 1498.4,113.9 1519.2,116.2 1533.1,117.4 1567.7,117.8 1577.0,116.2 1586.2,112.7 1595.5,109.7 1598.9,108.6" fill="none" stroke="#ffffff" stroke-width="1" stroke-linejoin="round" shape-rendering="crispEdges"/>
<polyline points="21.8,402.4 39.1,405.2 73.8,409.8 103.8,415.6 122.3,418.8 129.2,420.4 138.4,417.2" fill="none" stroke="#4a78ff" stroke-width="1" stroke-linejoin="round" shape-rendering="crispEdges"/>
<polyline points="138.4,417.2 150.0,412.1 163.9,409.1 177.7,406.8 200.8,405.9 213.5,405.4 226.2,395.2 235.5,378.6 255.6,341.7 276.6,319.7 287.5,318.1 296.0,317.6" fill="none" stroke="#ff10ff" stroke-width="1" stroke-linejoin="round" shape-rendering="crispEdges"/>
<polyline points="276.0,319.2 287.6,317.9" fill="none" stroke="#ff10ff" stroke-width="1" stroke-linejoin="round" shape-rendering="crispEdges"/>
<polyline points="287.6,317.9 303.7,320.9 322.2,327.3 340.7,337.0 351.3,341.0 354.5,341.0" fill="none" stroke="#4a78ff" stroke-width="1" stroke-linejoin="round" shape-rendering="crispEdges"/>
<polyline points="354.5,341.0 368.4,338.2 391.5,335.4 407.7,332.4 428.5,330.1 447.0,327.8 460.8,327.1 463.1,327.3" fill="none" stroke="#ff10ff" stroke-width="1" stroke-linejoin="round" shape-rendering="crispEdges"/>
<polyline points="463.1,327.3 479.3,331.3 497.8,337.0 516.3,344.0 532.4,350.9 552.3,352.7 556.0,353.2" fill="none" stroke="#4a78ff" stroke-width="1" stroke-linejoin="round" shape-rendering="crispEdges"/>
<polyline points="536.0,351.3 552.2,352.9 559.1,351.3" fill="none" stroke="#4a78ff" stroke-width="1" stroke-linejoin="round" shape-rendering="crispEdges"/>
<polyline points="559.1,351.3 577.6,344.4 591.4,339.8 605.3,338.2 614.5,337.5" fill="none" stroke="#ff10ff" stroke-width="1" stroke-linejoin="round" shape-rendering="crispEdges"/>
<polyline points="614.5,337.5 628.4,339.8 640.0,340.9 642.3,340.9" fill="none" stroke="#4a78ff" stroke-width="1" stroke-linejoin="round" shape-rendering="crispEdges"/>
<polyline points="642.3,340.9 658.4,336.3 672.3,330.5 683.9,326.6 697.7,324.1 711.6,323.6" fill="none" stroke="#ff10ff" stroke-width="1" stroke-linejoin="round" shape-rendering="crispEdges"/>
<polyline points="711.6,323.6 720.8,323.6" fill="none" stroke="#4a78ff" stroke-width="1" stroke-linejoin="round" shape-rendering="crispEdges"/>
<polyline points="720.8,323.6 732.4,319.0 743.9,313.2 755.5,304.0 767.0,297.0 778.6,292.4 790.1,289.6 806.3,287.3 816.0,276.2" fill="none" stroke="#ff10ff" stroke-width="1" stroke-linejoin="round" shape-rendering="crispEdges"/>
<polyline points="796.0,289.4 806.9,285.2 819.1,273.2 828.3,264.5 837.6,262.4" fill="none" stroke="#ff10ff" stroke-width="1" stroke-linejoin="round" shape-rendering="crispEdges"/>
<polyline points="837.6,262.4 848.4,262.4 863.0,265.1 872.2,265.6 880.3,263.5 888.4,264.5 901.3,268.6" fill="none" stroke="#4a78ff" stroke-width="1" stroke-linejoin="round" shape-rendering="crispEdges"/>
<polyline points="901.3,268.6 911.5,264.0 922.4,258.2 934.6,250.1 948.5,240.9 960.0,231.7 971.6,224.7 983.1,221.7 985.4,221.7" fill="none" stroke="#ff10ff" stroke-width="1" stroke-linejoin="round" shape-rendering="crispEdges"/>
<polyline points="985.4,221.7 997.0,221.9 1008.5,224.7 1022.4,229.3 1036.3,235.1 1049.2,239.7 1059.4,244.4 1070.2,248.3" fill="none" stroke="#4a78ff" stroke-width="1" stroke-linejoin="round" shape-rendering="crispEdges"/>
<polyline points="1070.6,248.3 1083.7,242.1 1099.9,231.7 1113.8,221.3 1123.5,214.4 1132.2,205.1 1146.1,190.1 1160.0,177.4 1166.9,170.5 1175.0,166.3 1186.5,156.6 1197.4,152.0 1208.5,150.2" fill="none" stroke="#ff10ff" stroke-width="1" stroke-linejoin="round" shape-rendering="crispEdges"/>
<polyline points="1208.5,150.2 1229.3,149.7" fill="none" stroke="#4a78ff" stroke-width="1" stroke-linejoin="round" shape-rendering="crispEdges"/>
<polyline points="1229.3,149.7 1239.4,137.0 1252.4,124.3 1266.2,113.9 1273.2,110.4 1282.4,107.0 1292.6,99.6 1303.4,94.3 1313.6,90.8" fill="none" stroke="#ff10ff" stroke-width="1" stroke-linejoin="round" shape-rendering="crispEdges"/>
<polyline points="1313.5,90.6 1326.4,96.0 1337.9,104.3 1349.5,114.2 1358.5,120.8 1366.5,125.7 1375.9,129.0 1382.5,129.5 1388.4,128.5" fill="none" stroke="#4a78ff" stroke-width="1" stroke-linejoin="round" shape-rendering="crispEdges"/>
<polyline points="1388.7,128.4 1403.7,146.2 1417.6,162.4 1430.3,176.3 1452.2,177.4 1463.8,183.2 1475.3,190.1 1489.2,195.4 1504.4,196.6 1519.2,199.4 1533.1,201.7 1540.0,203.3" fill="none" stroke="#4a78ff" stroke-width="1" stroke-linejoin="round" shape-rendering="crispEdges"/>
<polyline points="1540.0,203.3 1551.6,202.4 1560.8,200.5 1570.1,197.1 1579.3,187.8 1588.5,177.4 1595.5,169.3 1598.9,164.3" fill="none" stroke="#ff10ff" stroke-width="1" stroke-linejoin="round" shape-rendering="crispEdges"/>
<rect x="233" y="48" width="2" height="2" fill="#ff00ff"/>
<rect x="265" y="48" width="2" height="2" fill="#ff00ff"/>
<rect x="349" y="48" width="2" height="2" fill="#ff00ff"/>
<rect x="392" y="48" width="2" height="2" fill="#ff00ff"/>
<rect x="466" y="48" width="2" height="2" fill="#ff00ff"/>
<rect x="508" y="48" width="2" height="2" fill="#ff00ff"/>
<rect x="540" y="48" width="2" height="2" fill="#ff00ff"/>
<rect x="625" y="48" width="2" height="2" fill="#ff00ff"/>
<rect x="815" y="48" width="2" height="2" fill="#ff00ff"/>
<rect x="900" y="48" width="2" height="2" fill="#ff00ff"/>
<rect x="910" y="48" width="2" height="2" fill="#ff00ff"/>
<rect x="1069" y="48" width="2" height="2" fill="#ff00ff"/>
<rect x="1450" y="48" width="2" height="2" fill="#ff00ff"/>
<rect x="1535" y="48" width="2" height="2" fill="#ff00ff"/>
<rect x="1577" y="48" width="2" height="2" fill="#ff00ff"/>
<g shape-rendering="crispEdges">
<rect x="19.5" y="578.5" width="6" height="33" fill="none" stroke="#ff3c3c"/>
<rect x="30" y="586" width="7" height="26" fill="#54ffff"/>
<rect x="41" y="591" width="7" height="21" fill="#54ffff"/>
<rect x="51" y="582" width="7" height="30" fill="#54ffff"/>
<rect x="62.5" y="586.5" width="6" height="25" fill="none" stroke="#ff3c3c"/>
<rect x="72" y="583" width="7" height="29" fill="#54ffff"/>
<rect x="83" y="586" width="7" height="26" fill="#54ffff"/>
<rect x="94.5" y="584.5" width="6" height="27" fill="none" stroke="#ff3c3c"/>
<rect x="104" y="583" width="7" height="29" fill="#54ffff"/>
<rect x="115.5" y="586.5" width="6" height="25" fill="none" stroke="#ff3c3c"/>
<rect x="125.5" y="584.5" width="6" height="27" fill="none" stroke="#ff3c3c"/>
<rect x="136.5" y="545.5" width="6" height="66" fill="none" stroke="#ff3c3c"/>
<rect x="146.5" y="567.5" width="6" height="44" fill="none" stroke="#ff3c3c"/>
<rect x="157" y="586" width="7" height="26" fill="#54ffff"/>
<rect x="168" y="592" width="7" height="20" fill="#54ffff"/>
<rect x="178.5" y="587.5" width="6" height="24" fill="none" stroke="#ff3c3c"/>
<rect x="189" y="593" width="7" height="19" fill="#54ffff"/>
<rect x="199.5" y="593.5" width="6" height="18" fill="none" stroke="#ff3c3c"/>
<rect x="210.5" y="582.5" width="6" height="29" fill="none" stroke="#ff3c3c"/>
<rect x="221.5" y="511.5" width="6" height="100" fill="none" stroke="#ff3c3c"/>
<rect x="231.5" y="521.5" width="6" height="90" fill="none" stroke="#ff3c3c"/>
<rect x="242.5" y="518.5" width="6" height="93" fill="none" stroke="#ff3c3c"/>
<rect x="252" y="530" width="7" height="82" fill="#54ffff"/>
<rect x="263.5" y="547.5" width="6" height="64" fill="none" stroke="#ff3c3c"/>
<rect x="273.5" y="510.5" width="6" height="101" fill="none" stroke="#ff3c3c"/>
<rect x="284" y="540" width="7" height="72" fill="#54ffff"/>
<rect x="295.5" y="554.5" width="6" height="57" fill="none" stroke="#ff3c3c"/>
<rect x="305.5" y="548.5" width="6" height="63" fill="none" stroke="#ff3c3c"/>
<rect x="316" y="545" width="7" height="67" fill="#54ffff"/>
<rect x="326" y="552" width="7" height="60" fill="#54ffff"/>
<rect x="337" y="575" width="7" height="37" fill="#54ffff"/>
<rect x="347.5" y="556.5" width="6" height="55" fill="none" stroke="#ff3c3c"/>
<rect x="358" y="530" width="7" height="82" fill="#54ffff"/>
<rect x="369" y="564" width="7" height="48" fill="#54ffff"/>
<rect x="379.5" y="567.5" width="6" height="44" fill="none" stroke="#ff3c3c"/>
<rect x="390" y="541" width="7" height="71" fill="#54ffff"/>
<rect x="400.5" y="572.5" width="6" height="39" fill="none" stroke="#ff3c3c"/>
<rect x="411" y="564" width="7" height="48" fill="#54ffff"/>
<rect x="422.5" y="573.5" width="6" height="38" fill="none" stroke="#ff3c3c"/>
<rect x="432" y="584" width="7" height="28" fill="#54ffff"/>
<rect x="443.5" y="570.5" width="6" height="41" fill="none" stroke="#ff3c3c"/>
<rect x="453.5" y="558.5" width="6" height="53" fill="none" stroke="#ff3c3c"/>
<rect x="464" y="563" width="7" height="49" fill="#54ffff"/>
<rect x="474" y="554" width="7" height="58" fill="#54ffff"/>
<rect x="485" y="572" width="7" height="40" fill="#54ffff"/>
<rect x="496" y="576" width="7" height="36" fill="#54ffff"/>
<rect x="506.5" y="575.5" width="6" height="36" fill="none" stroke="#ff3c3c"/>
<rect x="517" y="570" width="7" height="42" fill="#54ffff"/>
<rect x="527" y="576" width="7" height="36" fill="#54ffff"/>
<rect x="538.5" y="578.5" width="6" height="33" fill="none" stroke="#ff3c3c"/>
<rect x="549.5" y="580.5" width="6" height="31" fill="none" stroke="#ff3c3c"/>
<rect x="559.5" y="545.5" width="6" height="66" fill="none" stroke="#ff3c3c"/>
<rect x="570.5" y="556.5" width="6" height="55" fill="none" stroke="#ff3c3c"/>
<rect x="580.5" y="570.5" width="6" height="41" fill="none" stroke="#ff3c3c"/>
<rect x="591" y="558" width="7" height="54" fill="#54ffff"/>
<rect x="601.5" y="570.5" width="6" height="41" fill="none" stroke="#ff3c3c"/>
<rect x="612" y="580" width="7" height="32" fill="#54ffff"/>
<rect x="623" y="565" width="7" height="47" fill="#54ffff"/>
<rect x="633.5" y="572.5" width="6" height="39" fill="none" stroke="#ff3c3c"/>
<rect x="644.5" y="553.5" width="6" height="58" fill="none" stroke="#ff3c3c"/>
<rect x="654.5" y="541.5" width="6" height="70" fill="none" stroke="#ff3c3c"/>
<rect x="665" y="546" width="7" height="66" fill="#54ffff"/>
<rect x="676.5" y="584.5" width="6" height="27" fill="none" stroke="#ff3c3c"/>
<rect x="686" y="579" width="7" height="33" fill="#54ffff"/>
<rect x="697" y="576" width="7" height="36" fill="#54ffff"/>
<rect x="707.5" y="586.5" width="6" height="25" fill="none" stroke="#ff3c3c"/>
<rect x="718" y="579" width="7" height="33" fill="#54ffff"/>
<rect x="728.5" y="514.5" width="6" height="97" fill="none" stroke="#ff3c3c"/>
<rect x="739" y="546" width="7" height="66" fill="#54ffff"/>
<rect x="750.5" y="516.5" width="6" height="95" fill="none" stroke="#ff3c3c"/>
<rect x="760.5" y="547.5" width="6" height="64" fill="none" stroke="#ff3c3c"/>
<rect x="771" y="566" width="7" height="46" fill="#54ffff"/>
<rect x="781" y="585" width="7" height="27" fill="#54ffff"/>
<rect x="792.5" y="573.5" width="6" height="38" fill="none" stroke="#ff3c3c"/>
<rect x="802" y="568" width="7" height="44" fill="#54ffff"/>
<rect x="813.5" y="499.5" width="6" height="112" fill="none" stroke="#ff3c3c"/>
<rect x="824" y="528" width="7" height="84" fill="#54ffff"/>
<rect x="834" y="536" width="7" height="76" fill="#54ffff"/>
<rect x="845.5" y="566.5" width="6" height="45" fill="none" stroke="#ff3c3c"/>
<rect x="855.5" y="569.5" width="6" height="42" fill="none" stroke="#ff3c3c"/>
<rect x="866.5" y="562.5" width="6" height="49" fill="none" stroke="#ff3c3c"/>
<rect x="877" y="563" width="7" height="49" fill="#54ffff"/>
<rect x="887" y="575" width="7" height="37" fill="#54ffff"/>
<rect x="898" y="568" width="7" height="44" fill="#54ffff"/>
<rect x="908.5" y="511.5" width="6" height="100" fill="none" stroke="#ff3c3c"/>
<rect x="919" y="550" width="7" height="62" fill="#54ffff"/>
<rect x="929.5" y="544.5" width="6" height="67" fill="none" stroke="#ff3c3c"/>
<rect x="940" y="569" width="7" height="43" fill="#54ffff"/>
<rect x="951" y="541" width="7" height="71" fill="#54ffff"/>
<rect x="961.5" y="542.5" width="6" height="69" fill="none" stroke="#ff3c3c"/>
<rect x="972" y="560" width="7" height="52" fill="#54ffff"/>
<rect x="982.5" y="580.5" width="6" height="31" fill="none" stroke="#ff3c3c"/>
<rect x="993" y="582" width="7" height="30" fill="#54ffff"/>
<rect x="1004" y="571" width="7" height="41" fill="#54ffff"/>
<rect x="1014" y="582" width="7" height="30" fill="#54ffff"/>
<rect x="1025.5" y="578.5" width="6" height="33" fill="none" stroke="#ff3c3c"/>
<rect x="1035.5" y="589.5" width="6" height="22" fill="none" stroke="#ff3c3c"/>
<rect x="1046.5" y="579.5" width="6" height="32" fill="none" stroke="#ff3c3c"/>
<rect x="1056.5" y="578.5" width="6" height="33" fill="none" stroke="#ff3c3c"/>
<rect x="1067" y="576" width="7" height="36" fill="#54ffff"/>
<rect x="1078.5" y="529.5" width="6" height="82" fill="none" stroke="#ff3c3c"/>
<rect x="1088.5" y="562.5" width="6" height="49" fill="none" stroke="#ff3c3c"/>
<rect x="1099" y="577" width="7" height="35" fill="#54ffff"/>
<rect x="1109.5" y="561.5" width="6" height="50" fill="none" stroke="#ff3c3c"/>
<rect x="1120.5" y="566.5" width="6" height="45" fill="none" stroke="#ff3c3c"/>
<rect x="1131.5" y="527.5" width="6" height="84" fill="none" stroke="#ff3c3c"/>
<rect x="1141" y="556" width="7" height="56" fill="#54ffff"/>
<rect x="1152.5" y="535.5" width="6" height="76" fill="none" stroke="#ff3c3c"/>
<rect x="1162.5" y="569.5" width="6" height="42" fill="none" stroke="#ff3c3c"/>
<rect x="1173" y="574" width="7" height="38" fill="#54ffff"/>
<rect x="1183.5" y="533.5" width="6" height="78" fill="none" stroke="#ff3c3c"/>
<rect x="1194" y="547" width="7" height="65" fill="#54ffff"/>
<rect x="1205.5" y="566.5" width="6" height="45" fill="none" stroke="#ff3c3c"/>
<rect x="1215" y="577" width="7" height="35" fill="#54ffff"/>
<rect x="1226.5" y="555.5" width="6" height="56" fill="none" stroke="#ff3c3c"/>
<rect x="1236.5" y="483.5" width="6" height="128" fill="none" stroke="#ff3c3c"/>
<rect x="1247" y="535" width="7" height="77" fill="#54ffff"/>
<rect x="1258" y="558" width="7" height="54" fill="#54ffff"/>
<rect x="1268.5" y="566.5" width="6" height="45" fill="none" stroke="#ff3c3c"/>
<rect x="1279" y="567" width="7" height="45" fill="#54ffff"/>
<rect x="1289" y="500" width="7" height="112" fill="#54ffff"/>
<rect x="1300.5" y="546.5" width="6" height="65" fill="none" stroke="#ff3c3c"/>
<rect x="1310.5" y="548.5" width="6" height="63" fill="none" stroke="#ff3c3c"/>
<rect x="1321" y="497" width="7" height="115" fill="#54ffff"/>
<rect x="1332.5" y="563.5" width="6" height="48" fill="none" stroke="#ff3c3c"/>
<rect x="1342" y="554" width="7" height="58" fill="#54ffff"/>
<rect x="1353" y="576" width="7" height="36" fill="#54ffff"/>
<rect x="1363.5" y="548.5" width="6" height="63" fill="none" stroke="#ff3c3c"/>
<rect x="1374" y="558" width="7" height="54" fill="#54ffff"/>
<rect x="1384" y="521" width="7" height="91" fill="#54ffff"/>
<rect x="1395" y="492" width="7" height="120" fill="#54ffff"/>
<rect x="1406" y="550" width="7" height="62" fill="#54ffff"/>
<rect x="1416" y="549" width="7" height="63" fill="#54ffff"/>
<rect x="1427.5" y="531.5" width="6" height="80" fill="none" stroke="#ff3c3c"/>
<rect x="1437.5" y="476.5" width="6" height="135" fill="none" stroke="#ff3c3c"/>
<rect x="1448" y="510" width="7" height="102" fill="#54ffff"/>
<rect x="1459" y="506" width="7" height="106" fill="#54ffff"/>
<rect x="1469.5" y="537.5" width="6" height="74" fill="none" stroke="#ff3c3c"/>
<rect x="1480" y="555" width="7" height="57" fill="#54ffff"/>
<rect x="1490.5" y="525.5" width="6" height="86" fill="none" stroke="#ff3c3c"/>
<rect x="1501.5" y="535.5" width="6" height="76" fill="none" stroke="#ff3c3c"/>
<rect x="1511" y="545" width="7" height="67" fill="#54ffff"/>
<rect x="1522.5" y="552.5" width="6" height="59" fill="none" stroke="#ff3c3c"/>
<rect x="1533.5" y="529.5" width="6" height="82" fill="none" stroke="#ff3c3c"/>
<rect x="1543.5" y="523.5" width="6" height="88" fill="none" stroke="#ff3c3c"/>
<rect x="1554" y="536" width="7" height="76" fill="#54ffff"/>
<rect x="1564.5" y="544.5" width="6" height="67" fill="none" stroke="#ff3c3c"/>
<rect x="1575.5" y="501.5" width="6" height="110" fill="none" stroke="#ff3c3c"/>
<rect x="1586.5" y="526.5" width="6" height="85" fill="none" stroke="#ff3c3c"/>
<rect x="1596" y="572" width="7" height="40" fill="#54ffff"/>
</g>
<polyline points="22.5,588.4 33.5,586.6 66.1,586.6 98.7,585.3 126.3,585.3 136.3,582.3 149.6,579.6 171.4,579.6 181.4,580.3 191.4,581.6 214.0,582.3 224.0,576.6 239.0,569.1 255.8,562.8 266.6,557.8 276.6,550.3 287.4,545.3 298.4,540.2 308.4,536.0 319.2,533.5 329.2,537.7 340.5,542.7 351.3,546.5 361.3,546.5 372.3,547.8 382.6,552.8 393.6,554.0 403.7,555.8 414.4,557.3 425.2,559.8 436.0,564.0 446.3,562.3 456.3,562.3 467.4,565.3 477.4,565.3 488.4,565.3 499.2,569.1 509.5,569.6 520.5,570.3 530.5,570.8 541.3,569.8 552.1,570.3 562.6,569.8 573.4,567.8 583.4,569.8 594.4,568.6 604.4,568.6 626.5,568.6 636.5,567.8 647.3,566.1 657.3,561.5 668.4,561.5 679.1,564.0 689.4,565.3 700.4,566.6 710.5,568.3 721.2,568.3 731.5,563.5 742.5,561.0 753.3,557.3 763.6,557.3 774.4,559.0 795.4,559.3 806.2,558.3 816.5,550.3 827.5,545.3 836.0,545.3 837.6,546.5 848.6,547.8 858.6,554.0 869.4,555.3 880.4,555.3 890.4,554.5 901.5,553.3 911.5,548.3 922.5,552.8 932.5,554.0 943.6,557.8 954.3,555.3 964.4,552.3 975.4,552.3 985.7,554.0 996.4,555.3 1007.5,555.8 1017.5,561.5 1028.5,564.8 1038.5,568.3 1049.3,570.3 1059.6,573.6 1070.4,576.6 1081.4,575.3 1091.4,573.6 1102.4,572.8 1112.5,570.8 1123.5,569.1 1134.3,564.5 1144.5,562.0 1155.3,557.0 1165.3,556.0 1176.4,555.8 1186.4,556.0 1197.4,555.3 1208.2,553.5 1218.5,555.3 1229.5,554.5 1236.0,554.0 1239.6,549.8 1250.3,547.6 1261.3,550.3 1271.4,549.8 1282.1,549.2 1292.6,545.7 1303.3,545.1 1313.7,543.5 1324.4,536.1 1335.1,536.6 1345.5,544.3 1356.3,547.9 1366.4,547.9 1377.4,546.5 1388.1,542.1 1398.5,541.0 1409.2,541.0 1419.4,541.0 1430.1,544.3 1440.5,536.1 1451.2,531.4 1462.2,525.9 1472.6,523.2 1483.3,523.2 1493.5,523.7 1504.2,527.3 1514.6,527.8 1525.3,527.8 1536.0,527.8 1546.5,533.3 1557.2,534.7 1567.6,538.0 1578.3,534.7 1588.7,533.3 1599.4,535.2" fill="none" stroke="#cc00dd" stroke-width="1" stroke-linejoin="round" shape-rendering="crispEdges"/>
<polyline points="22.5,585.3 33.5,584.6 66.1,585.3 98.7,584.8 126.3,585.3 136.3,580.3 149.6,574.1 171.4,575.3 181.4,576.6 191.4,584.1 203.9,590.4 214.0,589.1 224.0,575.3 239.0,557.8 255.8,535.2 266.6,526.5 276.6,525.7 287.4,530.2 298.4,536.5 308.4,540.2 319.2,540.7 329.2,547.8 340.5,555.3 351.3,555.3 361.3,552.8 372.3,554.8 382.6,557.8 393.6,552.0 403.7,556.5 414.4,562.3 425.2,564.0 436.0,567.8 438.6,570.3 446.3,573.3 456.3,570.8 467.4,570.3 477.4,566.1 488.4,563.3 499.2,566.1 509.5,568.3 520.5,569.8 530.5,574.6 541.3,576.1 552.1,576.6 562.6,571.6 573.4,567.8 583.4,566.1 594.4,562.3 604.4,560.8 615.2,567.3 626.5,568.3 636.5,569.3 647.3,567.8 657.3,562.0 668.4,556.5 679.1,558.5 689.4,561.5 700.4,564.5 710.5,572.3 721.2,581.1 731.5,566.6 742.5,560.3 753.3,550.3 763.6,540.7 774.4,538.5 784.4,552.0 795.4,557.8 806.2,568.3 816.5,557.8 827.5,550.3 836.0,542.7 837.6,541.5 848.6,539.5 858.6,540.2 869.4,550.3 880.4,557.8 890.4,567.3 901.5,567.3 911.5,556.5 922.5,554.0 932.5,549.5 943.6,548.3 954.3,543.2 964.4,549.5 975.4,551.5 985.7,557.8 996.4,560.8 1007.5,566.6 1017.5,575.3 1028.5,578.6 1038.5,580.3 1049.3,580.3 1059.6,581.6 1070.4,579.8 1081.4,570.3 1091.4,565.3 1102.4,564.0 1112.5,561.5 1123.5,559.8 1134.3,559.5 1144.5,557.8 1155.3,549.5 1165.3,550.3 1176.4,552.0 1186.4,553.5 1197.4,552.8 1208.2,556.5 1218.5,560.3 1229.5,556.5 1236.0,550.3 1239.6,546.5 1250.3,543.7 1261.3,542.1 1271.4,539.4 1282.1,542.1 1292.6,545.1 1303.3,547.0 1313.7,544.8 1324.4,533.3 1335.1,531.4 1345.5,541.6 1356.3,547.9 1366.4,549.8 1377.4,559.9 1388.1,552.5 1398.5,538.8 1409.2,534.7 1419.4,534.1 1430.1,530.0 1440.5,520.4 1451.2,523.2 1462.2,514.7 1472.6,512.2 1483.3,516.8 1493.5,524.5 1504.2,530.6 1514.6,538.8 1525.3,542.4 1536.0,538.0 1546.5,537.4 1557.2,537.4 1567.6,537.4 1578.3,528.4 1588.7,526.7 1599.4,535.2" fill="none" stroke="#dcc60a" stroke-width="1" stroke-linejoin="round" shape-rendering="crispEdges"/>
<rect x="1596.5" y="533.5" width="6" height="39" fill="none" stroke="#dcc60a" stroke-dasharray="1 1" shape-rendering="crispEdges"/>
<polyline points="21.7,873.0 36.8,874.0 66.8,875.6 90.2,879.0 106.9,883.3 127.0,883.3 143.7,879.0 160.4,878.0 173.7,879.0 182.1,877.3 200.5,878.3 213.8,875.6 227.2,868.9 233.9,865.6" fill="none" stroke="#0000ff" stroke-width="3" stroke-linejoin="round" shape-rendering="crispEdges"/>
<polyline points="21.7,857.3 36.8,857.3 66.8,859.6 106.9,863.9 160.4,865.6 200.5,867.3 217.2,865.6 233.9,862.3 247.3,858.9 264.0,855.6 275.7,851.2 287.4,852.2 307.4,849.9 339.1,849.9 360.9,847.2 401.0,843.9 434.4,840.5 461.1,837.9 501.2,837.2 560.0,837.2 573.4,835.5 613.5,833.2 626.9,834.5 640.2,834.5 667.0,830.5 693.7,828.9 713.7,827.9 732.1,825.5 753.8,822.8 773.9,819.8 795.6,817.2 807.3,815.5 820.7,810.5 837.4,809.5 859.1,807.1 884.2,803.1 902.5,802.1 922.6,797.8 941.0,793.1 956.0,790.4 967.7,787.1 987.7,783.7 1007.8,781.4 1027.8,779.4 1047.9,777.7 1069.6,776.4 1084.6,772.7 1100.0,770.4 1101.3,770.0 1122.7,765.4 1144.0,759.4 1165.3,753.0 1176.7,750.5 1190.2,745.8 1211.6,742.3 1227.6,738.0 1240.0,731.6 1257.8,726.6 1275.6,720.9 1293.4,716.0 1305.8,711.3 1314.7,707.8 1325.4,707.1 1343.2,705.3 1360.9,704.2 1375.2,701.7 1387.6,700.7 1398.3,702.5 1414.3,702.5 1430.3,703.2 1440.9,701.4 1451.6,701.7 1462.3,703.2 1481.8,703.9 1503.2,703.2 1513.8,704.2 1524.5,705.3 1538.7,705.3 1556.5,704.2 1567.2,704.2 1577.9,701.7 1588.5,700.0 1600.3,698.9" fill="none" stroke="#ffff00" stroke-width="3" stroke-linejoin="round" shape-rendering="crispEdges"/>
<polyline points="233.9,859.9 247.3,845.6 257.3,840.5 264.0,835.5 275.7,823.2 287.4,830.5 297.4,828.9 307.4,824.5 324.1,828.9 339.1,834.5 360.9,827.9 394.3,825.5 411.0,821.2 434.4,818.8 456.1,816.5 474.5,818.8 501.2,823.8 534.6,828.9 551.3,828.9 560.0,827.2 566.7,825.5 581.8,823.2 595.1,825.5 613.5,823.2 626.9,826.5 636.9,826.5 646.9,823.8 656.9,819.8 673.7,817.8 693.7,816.5 710.4,814.5 722.1,815.5 732.1,807.8 743.8,807.1 753.8,801.1 763.9,797.8 780.6,795.4 795.6,790.4 805.6,790.4 815.7,778.7 827.4,775.4 837.4,777.1 849.1,775.4 859.1,776.1 879.1,773.1 890.8,772.7 901.9,776.1 912.6,767.7 922.6,764.4 932.6,756.3 947.6,753.7 956.0,751.3 964.3,745.3 977.7,743.7 987.7,742.6 1007.8,742.6 1021.1,743.7 1037.9,745.3 1049.5,744.7 1061.2,747.7 1070.6,749.3 1083.0,742.0 1096.3,737.0 1100.0,736.0 1115.6,730.9 1124.5,727.4 1135.1,717.4 1144.0,714.9 1154.7,707.8 1165.3,702.5 1176.7,698.9 1186.7,688.9 1197.4,690.0 1208.0,687.5 1218.7,687.5 1229.4,681.1 1240.0,667.6 1250.7,663.3 1261.4,661.6 1272.0,654.5 1282.7,650.9 1293.4,649.1 1304.0,643.1 1312.9,640.2 1323.6,645.6 1334.3,647.3 1344.9,652.7 1360.9,654.5 1375.2,655.5 1387.6,654.5 1398.3,666.2 1408.9,672.2 1419.6,680.4 1430.3,682.2 1440.9,679.3 1451.6,681.8 1462.3,692.5 1472.9,694.6 1483.6,697.1 1492.5,696.1 1503.2,696.4 1513.8,701.7 1524.5,703.2 1535.2,703.9 1545.8,701.7 1556.5,701.7 1567.2,700.7 1577.9,693.6 1588.5,686.5 1595.6,683.6 1600.3,682.5" fill="none" stroke="#ff0000" stroke-width="3" stroke-linejoin="round" shape-rendering="crispEdges"/>
<g shape-rendering="crispEdges">
<rect x="18" y="451" width="1658" height="1" fill="#660000" />
<rect x="18" y="614" width="1658" height="1" fill="#660000" />
<rect x="1639" y="615" width="37" height="1" fill="#660000" />
<rect x="1639" y="594" width="37" height="1" fill="#660000" />
<rect x="18" y="888" width="1619" height="1" fill="#660000" />
<rect x="1637" y="887" width="39" height="2" fill="#660000" />
<rect x="1637" y="25" width="1" height="427" fill="#660000" />
<rect x="1637" y="452" width="2" height="437" fill="#660000" />
<rect x="1637" y="889" width="1" height="15" fill="#660000" />
<rect x="1627" y="889" width="1" height="15" fill="#660000" />
<rect x="17" y="4" width="1" height="905" fill="#2c2c2e" />
<rect x="1638" y="48" width="5" height="1" fill="#660000" />
<rect x="1638" y="72" width="2" height="1" fill="#660000" />
<rect x="1638" y="95" width="5" height="1" fill="#660000" />
<rect x="1638" y="119" width="2" height="1" fill="#660000" />
<rect x="1638" y="142" width="5" height="1" fill="#660000" />
<rect x="1638" y="166" width="2" height="1" fill="#660000" />
<rect x="1638" y="189" width="5" height="1" fill="#660000" />
<rect x="1638" y="213" width="2" height="1" fill="#660000" />
<rect x="1638" y="236" width="5" height="1" fill="#660000" />
<rect x="1638" y="260" width="2" height="1" fill="#660000" />
<rect x="1638" y="284" width="5" height="1" fill="#660000" />
<rect x="1638" y="307" width="2" height="1" fill="#660000" />
<rect x="1638" y="331" width="5" height="1" fill="#660000" />
<rect x="1638" y="354" width="2" height="1" fill="#660000" />
<rect x="1638" y="378" width="5" height="1" fill="#660000" />
<rect x="1638" y="401" width="2" height="1" fill="#660000" />
<rect x="1638" y="425" width="5" height="1" fill="#660000" />
</g>
<text x="1682.0" y="51.09" font-size="15.4" fill="#dcdcdc" text-anchor="end" >11.00</text>
<text x="1682.0" y="98.21499999999999" font-size="15.4" fill="#dcdcdc" text-anchor="end" >10.50</text>
<text x="1682.0" y="145.34" font-size="15.4" fill="#dcdcdc" text-anchor="end" >10.00</text>
<text x="1682.0" y="192.465" font-size="15.4" fill="#dcdcdc" text-anchor="end" >9.50</text>
<text x="1682.0" y="239.59" font-size="15.4" fill="#dcdcdc" text-anchor="end" >9.00</text>
<text x="1682.0" y="286.71500000000003" font-size="15.4" fill="#dcdcdc" text-anchor="end" >8.50</text>
<text x="1682.0" y="333.84000000000003" font-size="15.4" fill="#dcdcdc" text-anchor="end" >8.00</text>
<text x="1682.0" y="380.96500000000003" font-size="15.4" fill="#dcdcdc" text-anchor="end" >7.50</text>
<text x="1682.0" y="428.09000000000003" font-size="15.4" fill="#dcdcdc" text-anchor="end" >7.00</text>
<text x="1682.0" y="502" font-size="15.4" fill="#dcdcdc" text-anchor="end" >10000</text>
<text x="1682.0" y="559" font-size="15.4" fill="#dcdcdc" text-anchor="end" >5000</text>
<text x="1639.3" y="606.9" font-size="15.4" fill="#dcdcdc" text-anchor="start" >X100</text>
<text x="1682.0" y="667.0" font-size="15.4" fill="#dcdcdc" text-anchor="end" >10.00</text>
<text x="1682.0" y="705.0" font-size="15.4" fill="#dcdcdc" text-anchor="end" >9.50</text>
<text x="1682.0" y="743.0" font-size="15.4" fill="#dcdcdc" text-anchor="end" >9.00</text>
<text x="1682.0" y="781.0" font-size="15.4" fill="#dcdcdc" text-anchor="end" >8.50</text>
<text x="1682.0" y="818.0" font-size="15.4" fill="#dcdcdc" text-anchor="end" >8.00</text>
<text x="1682.0" y="856.0" font-size="15.4" fill="#dcdcdc" text-anchor="end" >7.50</text>
<g shape-rendering="crispEdges">
<rect x="1639" y="498" width="4" height="1" fill="#660000" />
<rect x="1639" y="555" width="4" height="1" fill="#660000" />
<rect x="1639" y="664" width="4" height="1" fill="#660000" />
<rect x="1639" y="683" width="1" height="1" fill="#660000" />
<rect x="1639" y="702" width="4" height="1" fill="#660000" />
<rect x="1639" y="721" width="1" height="1" fill="#660000" />
<rect x="1639" y="740" width="4" height="1" fill="#660000" />
<rect x="1639" y="759" width="1" height="1" fill="#660000" />
<rect x="1639" y="778" width="4" height="1" fill="#660000" />
<rect x="1639" y="796" width="1" height="1" fill="#660000" />
<rect x="1639" y="815" width="4" height="1" fill="#660000" />
<rect x="1639" y="834" width="1" height="1" fill="#660000" />
<rect x="1639" y="853" width="4" height="1" fill="#660000" />
<rect x="1639" y="872" width="1" height="1" fill="#660000" />
</g>
<text x="1596.5" y="120.9" font-size="15.4" fill="#00e600" text-anchor="start"  textLength="39" lengthAdjust="spacingAndGlyphs">10.36</text>
<text x="1596.5" y="184.9" font-size="15.4" fill="#ffff00" text-anchor="start"  textLength="39" lengthAdjust="spacingAndGlyphs">9.685</text>
<text x="1596.5" y="248.9" font-size="15.4" fill="#ff0a8c" text-anchor="start"  textLength="39" lengthAdjust="spacingAndGlyphs">9.007</text>
<rect x="1626" y="137" width="11" height="1" fill="#c8b400" shape-rendering="crispEdges"/>
<rect x="1632" y="216" width="5" height="1" fill="#00c000" shape-rendering="crispEdges"/>
<text x="1306.3" y="60.9" font-size="15.4" fill="#e6e6e6" text-anchor="start"  textLength="39.7" lengthAdjust="spacingAndGlyphs">10.98</text>
<polyline points="1292.5,50 1294,49.5 1304,54.5" fill="none" stroke="#e6e6e6" stroke-width="1"/>
<polyline points="1297,51.5 1293,50 1296,48.5" fill="none" stroke="#e6e6e6" stroke-width="1"/>
<text x="906" y="285" font-size="15.4" fill="#e6e6e6" text-anchor="start"  textLength="76" lengthAdjust="spacingAndGlyphs">8.64 - 8.66</text>
<text x="120.2" y="432.9" font-size="15.4" fill="#e6e6e6" text-anchor="start"  textLength="30" lengthAdjust="spacingAndGlyphs">6.93</text>
<polyline points="119,431.5 108,431.5" fill="none" stroke="#f0f0f0" stroke-width="1"/>
<polyline points="110.5,429.5 108,431.5 110.5,434.8" fill="none" stroke="#f0f0f0" stroke-width="1"/>
<polygon points="210.9,418.5 219,434.7 215.4,434.7 223.4,612 234.5,859 233.6,863 232.5,859 217.4,612 207.1,434.7 203,434.7" fill="#ff3a3a"/>
<circle cx="234.1" cy="866" r="6.9" fill="#f6cf1e"/>
<rect x="230" y="863" width="2" height="2" fill="#2a2000"/><rect x="236" y="863" width="2" height="2" fill="#2a2000"/>
<path d="M230.8 868 Q233.9 872.6 237 868" fill="none" stroke="#2a2000" stroke-width="1.1"/>
<polygon points="285.5,438.8 282.6,442 288.4,442" fill="#ff0000"/>
<text x="285.8" y="450.1" font-size="10.3" fill="#ff0000" text-anchor="middle" font-weight="bold">S</text>
<polygon points="1074,437 1085,437 1087,439 1087,450 1074,450" fill="#003c84"/>
<text x="1080.5" y="448" font-size="11.5" fill="#ffffff" text-anchor="middle" >财</text>
<text x="21" y="39.5" font-size="15" fill="#f0f0f0" text-anchor="start"  textLength="102" lengthAdjust="spacingAndGlyphs">陕西煤业(日线)</text>
<circle cx="135" cy="34" r="6" fill="#7d7d7d"/>
<polyline points="132,33 135,36 138,33" fill="none" stroke="#1a1a1a" stroke-width="1.6"/>
<text x="145.2" y="39.5" font-size="15" fill="#f0f0f0" text-anchor="start"  textLength="75" lengthAdjust="spacingAndGlyphs">看盘指标主</text>
<text x="225" y="39.0" font-size="15.4" fill="#f0f0f0" text-anchor="start"  textLength="78.5" lengthAdjust="spacingAndGlyphs"><tspan font-size="15">上轨</tspan>: 10.36</text>
<g shape-rendering="crispEdges" fill="#ff3c3c"><rect x="307" y="27" width="1" height="14"/><rect x="306" y="29" width="3" height="3"/><rect x="305" y="31" width="5" height="1"/></g>
<text x="318.5" y="39.0" font-size="15.4" fill="#d8c20a" text-anchor="start"  textLength="67.5" lengthAdjust="spacingAndGlyphs"><tspan font-size="15">下轨</tspan>: 9.01</text>
<g shape-rendering="crispEdges" fill="#ff3c3c"><rect x="391" y="27" width="1" height="14"/><rect x="390" y="29" width="3" height="3"/><rect x="389" y="31" width="5" height="1"/></g>
<text x="402.5" y="39.0" font-size="15.4" fill="#c000d0" text-anchor="start"  textLength="68.5" lengthAdjust="spacingAndGlyphs"><tspan font-size="15">中轨</tspan>: 9.69</text>
<g shape-rendering="crispEdges" fill="#ff3c3c"><rect x="475" y="27" width="1" height="14"/><rect x="474" y="29" width="3" height="3"/><rect x="473" y="31" width="5" height="1"/></g>
<text x="501" y="39.0" font-size="15.4" fill="#4470e8" text-anchor="start"  textLength="57.5" lengthAdjust="spacingAndGlyphs">V5: 9.78</text>
<g shape-rendering="crispEdges" fill="#ff3c3c"><rect x="563" y="27" width="1" height="14"/><rect x="562" y="29" width="3" height="3"/><rect x="561" y="31" width="5" height="1"/></g>
<text x="574" y="39.0" font-size="15.4" fill="#f010f0" text-anchor="start"  textLength="68" lengthAdjust="spacingAndGlyphs">CYC: 9.78</text>
<g shape-rendering="crispEdges" fill="#ff3c3c"><rect x="646" y="27" width="1" height="14"/><rect x="645" y="29" width="3" height="3"/><rect x="644" y="31" width="5" height="1"/></g>
<circle cx="26" cy="460" r="6" fill="#7d7d7d"/>
<polyline points="23,459 26,462 29,459" fill="none" stroke="#1a1a1a" stroke-width="1.6"/>
<text x="36.5" y="465.0" font-size="15.4" fill="#f0f0f0" text-anchor="start"  textLength="106.5" lengthAdjust="spacingAndGlyphs">VOL-TDX(5,10)</text>
<text x="148.5" y="465.0" font-size="15.4" fill="#f0f0f0" text-anchor="start"  textLength="43.5" lengthAdjust="spacingAndGlyphs">VVOL:</text>
<text x="196.3" y="465.0" font-size="15.4" fill="#f0f0f0" text-anchor="start"  textLength="76" lengthAdjust="spacingAndGlyphs">694353.94</text>
<g shape-rendering="crispEdges" fill="#ff3c3c"><rect x="276" y="453" width="1" height="14"/><rect x="275" y="455" width="3" height="3"/><rect x="274" y="457" width="5" height="1"/></g>
<text x="292.5" y="465.0" font-size="15.4" fill="#d8c20a" text-anchor="start"  textLength="66" lengthAdjust="spacingAndGlyphs">VOLUME:</text>
<text x="364.8" y="465.0" font-size="15.4" fill="#d8c20a" text-anchor="start"  textLength="76" lengthAdjust="spacingAndGlyphs">347176.97</text>
<g shape-rendering="crispEdges" fill="#54ffff"><rect x="444" y="453" width="1" height="14"/><rect x="443" y="462" width="3" height="3"/><rect x="442" y="462" width="5" height="1"/></g>
<text x="455.5" y="465.0" font-size="15.4" fill="#d8c20a" text-anchor="start"  textLength="38.5" lengthAdjust="spacingAndGlyphs">MA5:</text>
<text x="498.8" y="465.0" font-size="15.4" fill="#d8c20a" text-anchor="start"  textLength="75" lengthAdjust="spacingAndGlyphs">667851.00</text>
<g shape-rendering="crispEdges" fill="#54ffff"><rect x="578" y="453" width="1" height="14"/><rect x="577" y="462" width="3" height="3"/><rect x="576" y="462" width="5" height="1"/></g>
<text x="590" y="465.0" font-size="15.4" fill="#c000d0" text-anchor="start"  textLength="44.5" lengthAdjust="spacingAndGlyphs">MA10:</text>
<text x="641" y="465.0" font-size="15.4" fill="#c000d0" text-anchor="start"  textLength="75.5" lengthAdjust="spacingAndGlyphs">663852.44</text>
<g shape-rendering="crispEdges" fill="#54ffff"><rect x="721" y="453" width="1" height="14"/><rect x="720" y="462" width="3" height="3"/><rect x="719" y="462" width="5" height="1"/></g>
<circle cx="26" cy="623" r="6" fill="#7d7d7d"/>
<polyline points="23,622 26,625 29,622" fill="none" stroke="#1a1a1a" stroke-width="1.6"/>
<text x="36.3" y="628.0" font-size="15" fill="#f0f0f0" text-anchor="start"  textLength="74.5" lengthAdjust="spacingAndGlyphs">生命线指标</text>
<text x="116.8" y="628.0" font-size="15" fill="#ff0000" text-anchor="start"  textLength="33" lengthAdjust="spacingAndGlyphs">红多:</text>
<text x="154.5" y="628.0" font-size="15.4" fill="#ff0000" text-anchor="start"  textLength="30.5" lengthAdjust="spacingAndGlyphs">9.76</text>
<g shape-rendering="crispEdges" fill="#ff3c3c"><rect x="189" y="616" width="1" height="14"/><rect x="188" y="618" width="3" height="3"/><rect x="187" y="620" width="5" height="1"/></g>
<text x="200" y="628.0" font-size="15" fill="#0000ff" text-anchor="start"  textLength="32.7" lengthAdjust="spacingAndGlyphs">蓝空:</text>
<text x="237.5" y="628.0" font-size="15.4" fill="#0000ff" text-anchor="start"  textLength="30.5" lengthAdjust="spacingAndGlyphs">9.55</text>
<g shape-rendering="crispEdges" fill="#ff3c3c"><rect x="273" y="616" width="1" height="14"/><rect x="272" y="618" width="3" height="3"/><rect x="271" y="620" width="5" height="1"/></g>
<text x="284.2" y="628.0" font-size="15" fill="#ffff00" text-anchor="start"  textLength="48" lengthAdjust="spacingAndGlyphs">生命线:</text>
<text x="337.2" y="628.0" font-size="15.4" fill="#ffff00" text-anchor="start"  textLength="30.5" lengthAdjust="spacingAndGlyphs">9.55</text>
<g shape-rendering="crispEdges" fill="#ff3c3c"><rect x="372" y="616" width="1" height="14"/><rect x="371" y="618" width="3" height="3"/><rect x="370" y="620" width="5" height="1"/></g>
<text x="21.5" y="902.7" font-size="15.4" fill="#dcdcdc" text-anchor="start"  textLength="51" lengthAdjust="spacingAndGlyphs">2020<tspan font-size="15">年</tspan></text>
<text x="214" y="902.7" font-size="15.4" fill="#dcdcdc" text-anchor="start" >7</text>
<text x="457.5" y="902.7" font-size="15.4" fill="#dcdcdc" text-anchor="start" >8</text>
<text x="680" y="902.7" font-size="15.4" fill="#dcdcdc" text-anchor="start" >9</text>
<text x="912" y="902.7" font-size="15.4" fill="#dcdcdc" text-anchor="start" >10</text>
<text x="1082" y="902.7" font-size="15.4" fill="#dcdcdc" text-anchor="start" >11</text>
<text x="1304" y="902.7" font-size="15.4" fill="#dcdcdc" text-anchor="start" >12</text>
<text x="1547" y="902.7" font-size="15.4" fill="#dcdcdc" text-anchor="start" >1</text>
<g shape-rendering="crispEdges">
<rect x="213" y="889" width="1" height="15" fill="#660000" />
<rect x="456" y="889" width="1" height="15" fill="#660000" />
<rect x="679" y="889" width="1" height="15" fill="#660000" />
<rect x="911" y="889" width="1" height="15" fill="#660000" />
<rect x="1081" y="889" width="1" height="15" fill="#660000" />
<rect x="1303" y="889" width="1" height="15" fill="#660000" />
<rect x="1546" y="889" width="1" height="15" fill="#660000" />
<rect x="274" y="889" width="1" height="3" fill="#660000" />
<rect x="334" y="889" width="1" height="3" fill="#660000" />
<rect x="395" y="889" width="1" height="3" fill="#660000" />
<rect x="512" y="889" width="1" height="3" fill="#660000" />
<rect x="568" y="889" width="1" height="3" fill="#660000" />
<rect x="623" y="889" width="1" height="3" fill="#660000" />
<rect x="737" y="889" width="1" height="3" fill="#660000" />
<rect x="795" y="889" width="1" height="3" fill="#660000" />
<rect x="853" y="889" width="1" height="3" fill="#660000" />
<rect x="954" y="889" width="1" height="3" fill="#660000" />
<rect x="996" y="889" width="1" height="3" fill="#660000" />
<rect x="1038" y="889" width="1" height="3" fill="#660000" />
<rect x="1136" y="889" width="1" height="3" fill="#660000" />
<rect x="1192" y="889" width="1" height="3" fill="#660000" />
<rect x="1248" y="889" width="1" height="3" fill="#660000" />
<rect x="1364" y="889" width="1" height="3" fill="#660000" />
<rect x="1424" y="889" width="1" height="3" fill="#660000" />
<rect x="1485" y="889" width="1" height="3" fill="#660000" />
<rect x="0" y="904" width="1676" height="1" fill="#2c2c2e" />
</g>
<text x="1646.8" y="903.4" font-size="15" fill="#f0f0f0" text-anchor="start" >日线</text>
<rect x="1628" y="889" width="9" height="15" fill="#34343c" shape-rendering="crispEdges"/>
<rect x="1629" y="896" width="4" height="1" fill="#e0e0e0" shape-rendering="crispEdges"/><rect x="1634" y="896" width="2" height="1" fill="#e0e0e0" shape-rendering="crispEdges"/>
<text x="21" y="917.5" font-size="12" fill="#e6e6e6" text-anchor="start" >指标</text>
<text x="50" y="917.5" font-size="12" fill="#e6e6e6" text-anchor="start" >窗口</text>
<text x="82" y="917.5" font-size="12" fill="#e6e6e6" text-anchor="start" >主力进出指标</text>
<text x="163" y="917.5" font-size="12" fill="#e6e6e6" text-anchor="start" >龙虎榜资金</text>
<text x="231" y="916.2" font-size="12" fill="#e6e6e6" text-anchor="start" >MACD</text>
<text x="272" y="916.2" font-size="12" fill="#e6e6e6" text-anchor="start" >KDJ</text>
<text x="304" y="916.2" font-size="12" fill="#e6e6e6" text-anchor="start" >RSI</text>
<text x="334" y="917.5" font-size="12" fill="#e6e6e6" text-anchor="start" >财富池资金图</text>
<text x="415" y="917.5" font-size="12" fill="#e6e6e6" text-anchor="start" >更多</text>
<text x="447" y="917.5" font-size="12" fill="#54ffff" text-anchor="start" >设置</text>
<text x="1611" y="917.5" font-size="12" fill="#e6e6e6" text-anchor="start" >模板</text>
<g shape-rendering="crispEdges">
<rect x="48" y="905" width="1" height="4" fill="#3a3a3c" />
<rect x="79" y="905" width="1" height="4" fill="#3a3a3c" />
<rect x="160" y="905" width="1" height="4" fill="#3a3a3c" />
<rect x="228" y="905" width="1" height="4" fill="#3a3a3c" />
<rect x="270" y="905" width="1" height="4" fill="#3a3a3c" />
<rect x="301" y="905" width="1" height="4" fill="#3a3a3c" />
<rect x="332" y="905" width="1" height="4" fill="#3a3a3c" />
<rect x="412" y="905" width="1" height="4" fill="#3a3a3c" />
<rect x="444" y="905" width="1" height="4" fill="#3a3a3c" />
<rect x="1607" y="905" width="1" height="4" fill="#3a3a3c" />
<rect x="1637" y="905" width="1" height="4" fill="#3a3a3c" />
<rect x="1662" y="905" width="1" height="4" fill="#3a3a3c" />
</g>
<g shape-rendering="crispEdges">
<rect x="18" y="24" width="1658" height="1" fill="#2c2c2e" />
<rect x="41" y="5" width="1" height="19" fill="#2c2c2e" />
</g>
<rect x="23.5" y="8.5" width="11" height="10" rx="2" fill="none" stroke="#6a6a6a" stroke-width="1.2"/>
<rect x="30" y="10" width="3" height="7" fill="#8a8a8a"/>
<text x="45.5" y="18.8" font-size="12.4" fill="#f0f0f0" text-anchor="start" >分时</text>
<text x="79" y="18.8" font-size="12.4" fill="#f0f0f0" text-anchor="start" >1分钟</text>
<text x="118" y="18.8" font-size="12.4" fill="#f0f0f0" text-anchor="start" >3分钟</text>
<text x="157" y="18.8" font-size="12.4" fill="#f0f0f0" text-anchor="start" >5分钟</text>
<text x="196" y="18.8" font-size="12.4" fill="#f0f0f0" text-anchor="start" >15分钟</text>
<text x="242" y="18.8" font-size="12.4" fill="#f0f0f0" text-anchor="start" >30分钟</text>
<text x="288" y="18.8" font-size="12.4" fill="#f0f0f0" text-anchor="start" >60分钟</text>
<text x="339.5" y="18.8" font-size="12.4" fill="#f0f0f0" text-anchor="start" >2H</text>
<text x="369" y="18.8" font-size="12.4" fill="#54ffff" text-anchor="start" >日线</text>
<text x="401" y="18.8" font-size="12.4" fill="#f0f0f0" text-anchor="start" >多周期</text>
<text x="446" y="18.8" font-size="12.4" fill="#f0f0f0" text-anchor="start" >更多</text>
<polyline points="474,10 479,14 474,18" fill="none" stroke="#e0e0e0" stroke-width="1"/>
<g shape-rendering="crispEdges">
<rect x="1372" y="5" width="1" height="19" fill="#2c2c2e" />
<rect x="1406" y="5" width="1" height="19" fill="#2c2c2e" />
<rect x="1441" y="5" width="1" height="19" fill="#2c2c2e" />
<rect x="1476" y="5" width="1" height="19" fill="#2c2c2e" />
<rect x="1511" y="5" width="1" height="19" fill="#2c2c2e" />
<rect x="1546" y="5" width="1" height="19" fill="#2c2c2e" />
<rect x="1581" y="5" width="1" height="19" fill="#2c2c2e" />
<rect x="1616" y="5" width="1" height="19" fill="#2c2c2e" />
<rect x="1651" y="5" width="1" height="19" fill="#2c2c2e" />
</g>
<text x="1390" y="18.8" font-size="12.4" fill="#f0f0f0" text-anchor="middle" >复权</text>
<text x="1424" y="18.8" font-size="12.4" fill="#f0f0f0" text-anchor="middle" >叠加</text>
<text x="1459" y="18.8" font-size="12.4" fill="#f0f0f0" text-anchor="middle" >历史</text>
<text x="1494" y="18.8" font-size="12.4" fill="#f0f0f0" text-anchor="middle" >统计</text>
<text x="1529" y="18.8" font-size="12.4" fill="#f0f0f0" text-anchor="middle" >画线</text>
<text x="1564" y="18.8" font-size="12.4" fill="#f0f0f0" text-anchor="middle" >F10</text>
<text x="1599" y="18.8" font-size="12.4" fill="#f0f0f0" text-anchor="middle" >标记</text>
<text x="1634" y="18.8" font-size="12.4" fill="#f0f0f0" text-anchor="middle" >+自选</text>
<text x="1657" y="18.8" font-size="12.4" fill="#f0f0f0" text-anchor="start" >返回</text>
<polygon points="1609.5,29 1615,34.5 1609.5,40 1604,34.5" fill="none" stroke="#6a6a6a" stroke-width="1"/>
<rect x="1622.5" y="29.5" width="11" height="10" rx="2" fill="none" stroke="#6a6a6a" stroke-width="1.2"/>
<rect x="1629" y="31" width="3" height="7" fill="#8a8a8a"/>
<rect x="0" y="4" width="17" height="905" fill="#0f0f11"/>
<g shape-rendering="crispEdges">
<rect x="0" y="4" width="1" height="905" fill="#2a2a2c" />
<rect x="0" y="62" width="17" height="1" fill="#2a2a2c" />
<rect x="0" y="122" width="17" height="1" fill="#2a2a2c" />
<rect x="0" y="182" width="17" height="1" fill="#2a2a2c" />
<rect x="0" y="242" width="17" height="1" fill="#2a2a2c" />
<rect x="0" y="302" width="17" height="1" fill="#2a2a2c" />
<rect x="0" y="362" width="17" height="1" fill="#2a2a2c" />
<rect x="0" y="422" width="17" height="1" fill="#2a2a2c" />
<rect x="0" y="482" width="17" height="1" fill="#2a2a2c" />
<rect x="0" y="542" width="17" height="1" fill="#2a2a2c" />
<rect x="0" y="62" width="18" height="61" fill="#16262c"/>
<rect x="1" y="63" width="16" height="59" fill="#b40000"/>
</g>
<text x="8.5" y="19.5" font-size="12" fill="#ffffff" text-anchor="middle" >分</text>
<text x="8.5" y="31.5" font-size="12" fill="#ffffff" text-anchor="middle" >时</text>
<text x="8.5" y="43.5" font-size="12" fill="#ffffff" text-anchor="middle" >走</text>
<text x="8.5" y="55.5" font-size="12" fill="#ffffff" text-anchor="middle" >势</text>
<text x="8.5" y="79.5" font-size="12" fill="#ffffff" text-anchor="middle" >技</text>
<text x="8.5" y="91.5" font-size="12" fill="#ffffff" text-anchor="middle" >术</text>
<text x="8.5" y="103.5" font-size="12" fill="#ffffff" text-anchor="middle" >分</text>
<text x="8.5" y="115.5" font-size="12" fill="#ffffff" text-anchor="middle" >析</text>
<text x="8.5" y="139.5" font-size="12" fill="#ffffff" text-anchor="middle" >大</text>
<text x="8.5" y="151.5" font-size="12" fill="#ffffff" text-anchor="middle" >盘</text>
<text x="8.5" y="163.5" font-size="12" fill="#ffffff" text-anchor="middle" >资</text>
<text x="8.5" y="175.5" font-size="12" fill="#ffffff" text-anchor="middle" >金</text>
<text x="8.5" y="199.5" font-size="12" fill="#ffffff" text-anchor="middle" >大</text>
<text x="8.5" y="211.5" font-size="12" fill="#ffffff" text-anchor="middle" >单</text>
<text x="8.5" y="223.5" font-size="12" fill="#ffffff" text-anchor="middle" >买</text>
<text x="8.5" y="235.5" font-size="12" fill="#ffffff" text-anchor="middle" >卖</text>
<text x="8.5" y="259.5" font-size="12" fill="#ffffff" text-anchor="middle" >一</text>
<text x="8.5" y="271.5" font-size="12" fill="#ffffff" text-anchor="middle" >日</text>
<text x="8.5" y="283.5" font-size="12" fill="#ffffff" text-anchor="middle" >资</text>
<text x="8.5" y="295.5" font-size="12" fill="#ffffff" text-anchor="middle" >金</text>
<text x="8.5" y="319.5" font-size="12" fill="#ffffff" text-anchor="middle" >主</text>
<text x="8.5" y="331.5" font-size="12" fill="#ffffff" text-anchor="middle" >力</text>
<text x="8.5" y="343.5" font-size="12" fill="#ffffff" text-anchor="middle" >大</text>
<text x="8.5" y="355.5" font-size="12" fill="#ffffff" text-anchor="middle" >单</text>
<text x="8.5" y="379.5" font-size="12" fill="#ffffff" text-anchor="middle" >大</text>
<text x="8.5" y="391.5" font-size="12" fill="#ffffff" text-anchor="middle" >单</text>
<text x="8.5" y="403.5" font-size="12" fill="#ffffff" text-anchor="middle" >盘</text>
<text x="8.5" y="415.5" font-size="12" fill="#ffffff" text-anchor="middle" >口</text>
<text x="8.5" y="439.5" font-size="12" fill="#ffffff" text-anchor="middle" >财</text>
<text x="8.5" y="451.5" font-size="12" fill="#ffffff" text-anchor="middle" >富</text>
<text x="8.5" y="463.5" font-size="12" fill="#ffffff" text-anchor="middle" >资</text>
<text x="8.5" y="475.5" font-size="12" fill="#ffffff" text-anchor="middle" >金</text>
<text x="8.5" y="499.5" font-size="12" fill="#ffffff" text-anchor="middle" >东</text>
<text x="8.5" y="511.5" font-size="12" fill="#ffffff" text-anchor="middle" >财</text>
<text x="8.5" y="523.5" font-size="12" fill="#ffffff" text-anchor="middle" >贴</text>
<text x="8.5" y="535.5" font-size="12" fill="#ffffff" text-anchor="middle" >吧</text>
<text x="1458.5" y="875.5" font-size="36.5" fill="#ffffff" text-anchor="start" font-weight="900" textLength="110.5" lengthAdjust="spacingAndGlyphs">财富池</text>
<text x="1575.5" y="861" font-size="14.5" fill="#ffffff" text-anchor="start" font-weight="bold">cfchi.com</text>
<text x="1576.5" y="879" font-size="11.2" fill="#ffffff" text-anchor="start" font-weight="bold">指标交易平台</text>
</svg></body></html>
